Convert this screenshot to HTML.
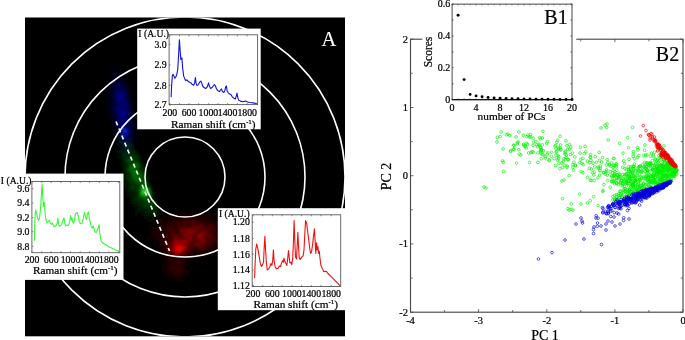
<!DOCTYPE html>
<html><head><meta charset="utf-8"><title>Figure</title>
<style>html,body{margin:0;padding:0;background:#fff;}body{width:685px;height:340px;overflow:hidden;}svg{display:block;font-family:"Liberation Serif","Times New Roman",serif;}text{stroke:#000;stroke-width:0.22px;}text.w{stroke:#fff;stroke-width:0.1px;}</style>
</head><body>
<svg width="685" height="340" viewBox="0 0 685 340">
<defs>
<filter id="b4" x="-50%" y="-50%" width="200%" height="200%"><feGaussianBlur stdDeviation="4"/></filter>
<filter id="b3" x="-50%" y="-50%" width="200%" height="200%"><feGaussianBlur stdDeviation="2.5"/></filter>
<filter id="b1" x="-10%" y="-10%" width="120%" height="120%"><feGaussianBlur stdDeviation="1.5"/></filter>
<filter id="b6" x="-50%" y="-50%" width="200%" height="200%"><feGaussianBlur stdDeviation="6"/></filter>
<clipPath id="cA"><rect x="25" y="17.5" width="320" height="318.8"/></clipPath>
</defs>
<rect x="0" y="0" width="685" height="340" fill="#fff"/>
<rect x="25" y="17.5" width="320" height="318.8" fill="#000"/>
<g clip-path="url(#cA)">
<g filter="url(#b1)">
<rect x="111" y="63" width="3" height="3" fill="rgb(0,0,12)"/>
<rect x="114" y="63" width="3" height="3" fill="rgb(0,0,12)"/>
<rect x="111" y="66" width="3" height="3" fill="rgb(0,0,12)"/>
<rect x="120" y="66" width="3" height="3" fill="rgb(0,0,13)"/>
<rect x="108" y="69" width="3" height="3" fill="rgb(0,0,13)"/>
<rect x="114" y="69" width="3" height="3" fill="rgb(0,0,13)"/>
<rect x="117" y="69" width="3" height="3" fill="rgb(0,0,17)"/>
<rect x="120" y="69" width="3" height="3" fill="rgb(0,0,17)"/>
<rect x="108" y="72" width="3" height="3" fill="rgb(0,0,16)"/>
<rect x="111" y="72" width="3" height="3" fill="rgb(0,0,22)"/>
<rect x="114" y="72" width="3" height="3" fill="rgb(0,0,28)"/>
<rect x="117" y="72" width="3" height="3" fill="rgb(0,0,22)"/>
<rect x="123" y="72" width="3" height="3" fill="rgb(0,0,14)"/>
<rect x="108" y="75" width="3" height="3" fill="rgb(0,0,14)"/>
<rect x="111" y="75" width="3" height="3" fill="rgb(0,0,17)"/>
<rect x="114" y="75" width="3" height="3" fill="rgb(0,0,18)"/>
<rect x="117" y="75" width="3" height="3" fill="rgb(0,0,24)"/>
<rect x="120" y="75" width="3" height="3" fill="rgb(0,0,15)"/>
<rect x="123" y="75" width="3" height="3" fill="rgb(0,0,16)"/>
<rect x="126" y="75" width="3" height="3" fill="rgb(0,0,11)"/>
<rect x="111" y="78" width="3" height="3" fill="rgb(0,0,14)"/>
<rect x="114" y="78" width="3" height="3" fill="rgb(0,0,46)"/>
<rect x="117" y="78" width="3" height="3" fill="rgb(0,0,27)"/>
<rect x="120" y="78" width="3" height="3" fill="rgb(0,0,18)"/>
<rect x="123" y="78" width="3" height="3" fill="rgb(0,0,28)"/>
<rect x="105" y="81" width="3" height="3" fill="rgb(0,0,12)"/>
<rect x="108" y="81" width="3" height="3" fill="rgb(0,0,23)"/>
<rect x="111" y="81" width="3" height="3" fill="rgb(0,0,28)"/>
<rect x="114" y="81" width="3" height="3" fill="rgb(0,0,40)"/>
<rect x="117" y="81" width="3" height="3" fill="rgb(0,0,62)"/>
<rect x="120" y="81" width="3" height="3" fill="rgb(0,0,31)"/>
<rect x="123" y="81" width="3" height="3" fill="rgb(0,0,22)"/>
<rect x="126" y="81" width="3" height="3" fill="rgb(0,0,11)"/>
<rect x="108" y="84" width="3" height="3" fill="rgb(0,0,13)"/>
<rect x="111" y="84" width="3" height="3" fill="rgb(0,0,38)"/>
<rect x="114" y="84" width="3" height="3" fill="rgb(0,0,69)"/>
<rect x="117" y="84" width="3" height="3" fill="rgb(0,0,92)"/>
<rect x="120" y="84" width="3" height="3" fill="rgb(0,0,46)"/>
<rect x="123" y="84" width="3" height="3" fill="rgb(0,0,52)"/>
<rect x="126" y="84" width="3" height="3" fill="rgb(0,0,16)"/>
<rect x="105" y="87" width="3" height="3" fill="rgb(0,0,13)"/>
<rect x="108" y="87" width="3" height="3" fill="rgb(0,0,21)"/>
<rect x="111" y="87" width="3" height="3" fill="rgb(0,0,24)"/>
<rect x="114" y="87" width="3" height="3" fill="rgb(0,0,69)"/>
<rect x="117" y="87" width="3" height="3" fill="rgb(0,0,92)"/>
<rect x="120" y="87" width="3" height="3" fill="rgb(0,0,54)"/>
<rect x="123" y="87" width="3" height="3" fill="rgb(0,0,70)"/>
<rect x="126" y="87" width="3" height="3" fill="rgb(0,0,30)"/>
<rect x="105" y="90" width="3" height="3" fill="rgb(0,0,14)"/>
<rect x="108" y="90" width="3" height="3" fill="rgb(0,0,22)"/>
<rect x="111" y="90" width="3" height="3" fill="rgb(0,0,25)"/>
<rect x="114" y="90" width="3" height="3" fill="rgb(0,0,61)"/>
<rect x="117" y="90" width="3" height="3" fill="rgb(0,0,69)"/>
<rect x="120" y="90" width="3" height="3" fill="rgb(0,0,99)"/>
<rect x="123" y="90" width="3" height="3" fill="rgb(0,0,70)"/>
<rect x="126" y="90" width="3" height="3" fill="rgb(0,0,24)"/>
<rect x="129" y="90" width="3" height="3" fill="rgb(0,0,12)"/>
<rect x="105" y="93" width="3" height="3" fill="rgb(0,0,15)"/>
<rect x="108" y="93" width="3" height="3" fill="rgb(0,0,24)"/>
<rect x="111" y="93" width="3" height="3" fill="rgb(0,0,25)"/>
<rect x="114" y="93" width="3" height="3" fill="rgb(0,0,95)"/>
<rect x="117" y="93" width="3" height="3" fill="rgb(0,0,118)"/>
<rect x="120" y="93" width="3" height="3" fill="rgb(0,0,160)"/>
<rect x="123" y="93" width="3" height="3" fill="rgb(0,0,97)"/>
<rect x="126" y="93" width="3" height="3" fill="rgb(0,0,51)"/>
<rect x="129" y="93" width="3" height="3" fill="rgb(0,0,16)"/>
<rect x="132" y="93" width="3" height="3" fill="rgb(0,0,11)"/>
<rect x="105" y="96" width="3" height="3" fill="rgb(0,0,11)"/>
<rect x="108" y="96" width="3" height="3" fill="rgb(0,0,12)"/>
<rect x="111" y="96" width="3" height="3" fill="rgb(0,0,21)"/>
<rect x="114" y="96" width="3" height="3" fill="rgb(0,0,68)"/>
<rect x="117" y="96" width="3" height="3" fill="rgb(0,0,103)"/>
<rect x="120" y="96" width="3" height="3" fill="rgb(0,0,151)"/>
<rect x="123" y="96" width="3" height="3" fill="rgb(0,0,54)"/>
<rect x="126" y="96" width="3" height="3" fill="rgb(0,0,45)"/>
<rect x="129" y="96" width="3" height="3" fill="rgb(0,0,20)"/>
<rect x="105" y="99" width="3" height="3" fill="rgb(0,0,12)"/>
<rect x="108" y="99" width="3" height="3" fill="rgb(0,0,28)"/>
<rect x="111" y="99" width="3" height="3" fill="rgb(0,0,22)"/>
<rect x="114" y="99" width="3" height="3" fill="rgb(0,0,56)"/>
<rect x="117" y="99" width="3" height="3" fill="rgb(0,0,151)"/>
<rect x="120" y="99" width="3" height="3" fill="rgb(0,0,85)"/>
<rect x="123" y="99" width="3" height="3" fill="rgb(0,0,95)"/>
<rect x="126" y="99" width="3" height="3" fill="rgb(0,0,49)"/>
<rect x="129" y="99" width="3" height="3" fill="rgb(0,0,31)"/>
<rect x="132" y="99" width="3" height="3" fill="rgb(0,0,17)"/>
<rect x="108" y="102" width="3" height="3" fill="rgb(0,0,11)"/>
<rect x="111" y="102" width="3" height="3" fill="rgb(0,0,39)"/>
<rect x="114" y="102" width="3" height="3" fill="rgb(0,0,49)"/>
<rect x="117" y="102" width="3" height="3" fill="rgb(0,0,62)"/>
<rect x="120" y="102" width="3" height="3" fill="rgb(0,0,91)"/>
<rect x="123" y="102" width="3" height="3" fill="rgb(0,0,129)"/>
<rect x="126" y="102" width="3" height="3" fill="rgb(0,0,71)"/>
<rect x="129" y="102" width="3" height="3" fill="rgb(0,0,16)"/>
<rect x="132" y="102" width="3" height="3" fill="rgb(0,0,10)"/>
<rect x="105" y="105" width="3" height="3" fill="rgb(0,0,10)"/>
<rect x="108" y="105" width="3" height="3" fill="rgb(0,0,22)"/>
<rect x="111" y="105" width="3" height="3" fill="rgb(0,0,29)"/>
<rect x="114" y="105" width="3" height="3" fill="rgb(0,0,67)"/>
<rect x="117" y="105" width="3" height="3" fill="rgb(0,0,111)"/>
<rect x="120" y="105" width="3" height="3" fill="rgb(0,0,97)"/>
<rect x="123" y="105" width="3" height="3" fill="rgb(0,0,102)"/>
<rect x="126" y="105" width="3" height="3" fill="rgb(0,0,107)"/>
<rect x="129" y="105" width="3" height="3" fill="rgb(0,0,29)"/>
<rect x="132" y="105" width="3" height="3" fill="rgb(0,0,14)"/>
<rect x="105" y="108" width="3" height="3" fill="rgb(0,0,11)"/>
<rect x="108" y="108" width="3" height="3" fill="rgb(0,0,19)"/>
<rect x="111" y="108" width="3" height="3" fill="rgb(0,0,42)"/>
<rect x="114" y="108" width="3" height="3" fill="rgb(0,0,77)"/>
<rect x="117" y="108" width="3" height="3" fill="rgb(0,0,125)"/>
<rect x="120" y="108" width="3" height="3" fill="rgb(0,0,112)"/>
<rect x="123" y="108" width="3" height="3" fill="rgb(0,0,82)"/>
<rect x="126" y="108" width="3" height="3" fill="rgb(0,0,65)"/>
<rect x="129" y="108" width="3" height="3" fill="rgb(0,0,37)"/>
<rect x="132" y="108" width="3" height="3" fill="rgb(0,0,17)"/>
<rect x="105" y="111" width="3" height="3" fill="rgb(0,0,10)"/>
<rect x="108" y="111" width="3" height="3" fill="rgb(0,0,11)"/>
<rect x="111" y="111" width="3" height="3" fill="rgb(0,0,17)"/>
<rect x="114" y="111" width="3" height="3" fill="rgb(0,0,59)"/>
<rect x="117" y="111" width="3" height="3" fill="rgb(0,0,106)"/>
<rect x="120" y="111" width="3" height="3" fill="rgb(0,0,122)"/>
<rect x="123" y="111" width="3" height="3" fill="rgb(0,0,161)"/>
<rect x="126" y="111" width="3" height="3" fill="rgb(0,0,88)"/>
<rect x="129" y="111" width="3" height="3" fill="rgb(0,0,33)"/>
<rect x="132" y="111" width="3" height="3" fill="rgb(0,0,13)"/>
<rect x="108" y="114" width="3" height="3" fill="rgb(0,0,18)"/>
<rect x="111" y="114" width="3" height="3" fill="rgb(0,0,34)"/>
<rect x="114" y="114" width="3" height="3" fill="rgb(0,0,48)"/>
<rect x="117" y="114" width="3" height="3" fill="rgb(0,0,54)"/>
<rect x="120" y="114" width="3" height="3" fill="rgb(0,0,160)"/>
<rect x="123" y="114" width="3" height="3" fill="rgb(0,0,86)"/>
<rect x="126" y="114" width="3" height="3" fill="rgb(0,0,80)"/>
<rect x="129" y="114" width="3" height="3" fill="rgb(0,0,61)"/>
<rect x="132" y="114" width="3" height="3" fill="rgb(0,0,17)"/>
<rect x="108" y="117" width="3" height="3" fill="rgb(0,0,16)"/>
<rect x="111" y="117" width="3" height="3" fill="rgb(0,0,12)"/>
<rect x="114" y="117" width="3" height="3" fill="rgb(0,1,54)"/>
<rect x="117" y="117" width="3" height="3" fill="rgb(0,1,71)"/>
<rect x="120" y="117" width="3" height="3" fill="rgb(0,0,97)"/>
<rect x="123" y="117" width="3" height="3" fill="rgb(0,0,78)"/>
<rect x="126" y="117" width="3" height="3" fill="rgb(0,0,85)"/>
<rect x="129" y="117" width="3" height="3" fill="rgb(0,0,73)"/>
<rect x="132" y="117" width="3" height="3" fill="rgb(0,0,17)"/>
<rect x="111" y="120" width="3" height="3" fill="rgb(0,1,25)"/>
<rect x="114" y="120" width="3" height="3" fill="rgb(0,2,42)"/>
<rect x="117" y="120" width="3" height="3" fill="rgb(0,2,91)"/>
<rect x="120" y="120" width="3" height="3" fill="rgb(0,1,121)"/>
<rect x="123" y="120" width="3" height="3" fill="rgb(0,0,127)"/>
<rect x="126" y="120" width="3" height="3" fill="rgb(0,0,123)"/>
<rect x="129" y="120" width="3" height="3" fill="rgb(0,0,32)"/>
<rect x="132" y="120" width="3" height="3" fill="rgb(0,0,24)"/>
<rect x="111" y="123" width="3" height="3" fill="rgb(0,1,22)"/>
<rect x="114" y="123" width="3" height="3" fill="rgb(0,2,27)"/>
<rect x="117" y="123" width="3" height="3" fill="rgb(0,4,75)"/>
<rect x="120" y="123" width="3" height="3" fill="rgb(0,3,116)"/>
<rect x="123" y="123" width="3" height="3" fill="rgb(0,1,106)"/>
<rect x="126" y="123" width="3" height="3" fill="rgb(0,0,81)"/>
<rect x="129" y="123" width="3" height="3" fill="rgb(0,0,55)"/>
<rect x="132" y="123" width="3" height="3" fill="rgb(0,0,21)"/>
<rect x="111" y="126" width="3" height="3" fill="rgb(0,1,16)"/>
<rect x="114" y="126" width="3" height="3" fill="rgb(0,2,23)"/>
<rect x="117" y="126" width="3" height="3" fill="rgb(0,2,30)"/>
<rect x="120" y="126" width="3" height="3" fill="rgb(0,6,133)"/>
<rect x="123" y="126" width="3" height="3" fill="rgb(0,3,150)"/>
<rect x="126" y="126" width="3" height="3" fill="rgb(0,1,62)"/>
<rect x="129" y="126" width="3" height="3" fill="rgb(0,0,53)"/>
<rect x="132" y="126" width="3" height="3" fill="rgb(0,0,30)"/>
<rect x="135" y="126" width="3" height="3" fill="rgb(0,0,15)"/>
<rect x="114" y="129" width="3" height="3" fill="rgb(0,2,15)"/>
<rect x="117" y="129" width="3" height="3" fill="rgb(0,7,57)"/>
<rect x="120" y="129" width="3" height="3" fill="rgb(0,4,72)"/>
<rect x="123" y="129" width="3" height="3" fill="rgb(30,51,221)"/>
<rect x="126" y="129" width="3" height="3" fill="rgb(0,4,162)"/>
<rect x="129" y="129" width="3" height="3" fill="rgb(0,1,35)"/>
<rect x="132" y="129" width="3" height="3" fill="rgb(0,0,33)"/>
<rect x="111" y="132" width="3" height="3" fill="rgb(0,2,13)"/>
<rect x="114" y="132" width="3" height="3" fill="rgb(0,3,15)"/>
<rect x="117" y="132" width="3" height="3" fill="rgb(0,10,53)"/>
<rect x="120" y="132" width="3" height="3" fill="rgb(0,9,104)"/>
<rect x="123" y="132" width="3" height="3" fill="rgb(0,6,152)"/>
<rect x="126" y="132" width="3" height="3" fill="rgb(0,7,152)"/>
<rect x="129" y="132" width="3" height="3" fill="rgb(0,2,45)"/>
<rect x="132" y="132" width="3" height="3" fill="rgb(0,1,28)"/>
<rect x="135" y="132" width="3" height="3" fill="rgb(0,0,10)"/>
<rect x="117" y="135" width="3" height="3" fill="rgb(0,8,28)"/>
<rect x="120" y="135" width="3" height="3" fill="rgb(0,8,59)"/>
<rect x="123" y="135" width="3" height="3" fill="rgb(0,12,168)"/>
<rect x="126" y="135" width="3" height="3" fill="rgb(0,6,71)"/>
<rect x="129" y="135" width="3" height="3" fill="rgb(0,3,29)"/>
<rect x="132" y="135" width="3" height="3" fill="rgb(0,2,22)"/>
<rect x="135" y="135" width="3" height="3" fill="rgb(0,1,13)"/>
<rect x="114" y="138" width="3" height="3" fill="rgb(0,4,11)"/>
<rect x="117" y="138" width="3" height="3" fill="rgb(0,9,24)"/>
<rect x="120" y="138" width="3" height="3" fill="rgb(0,13,44)"/>
<rect x="123" y="138" width="3" height="3" fill="rgb(0,10,49)"/>
<rect x="126" y="138" width="3" height="3" fill="rgb(0,10,48)"/>
<rect x="129" y="138" width="3" height="3" fill="rgb(0,10,46)"/>
<rect x="132" y="138" width="3" height="3" fill="rgb(0,3,14)"/>
<rect x="135" y="138" width="3" height="3" fill="rgb(0,2,10)"/>
<rect x="114" y="141" width="3" height="3" fill="rgb(0,5,11)"/>
<rect x="117" y="141" width="3" height="3" fill="rgb(0,8,15)"/>
<rect x="120" y="141" width="3" height="3" fill="rgb(0,22,42)"/>
<rect x="123" y="141" width="3" height="3" fill="rgb(0,21,48)"/>
<rect x="126" y="141" width="3" height="3" fill="rgb(0,25,58)"/>
<rect x="129" y="141" width="3" height="3" fill="rgb(0,12,28)"/>
<rect x="132" y="141" width="3" height="3" fill="rgb(0,5,12)"/>
<rect x="117" y="144" width="3" height="3" fill="rgb(0,9,12)"/>
<rect x="120" y="144" width="3" height="3" fill="rgb(0,9,12)"/>
<rect x="123" y="144" width="3" height="3" fill="rgb(0,32,43)"/>
<rect x="126" y="144" width="3" height="3" fill="rgb(0,39,51)"/>
<rect x="129" y="144" width="3" height="3" fill="rgb(0,32,37)"/>
<rect x="120" y="147" width="3" height="3" fill="rgb(0,11,9)"/>
<rect x="123" y="147" width="3" height="3" fill="rgb(0,23,19)"/>
<rect x="126" y="147" width="3" height="3" fill="rgb(0,40,30)"/>
<rect x="129" y="147" width="3" height="3" fill="rgb(0,36,23)"/>
<rect x="132" y="147" width="3" height="3" fill="rgb(0,15,8)"/>
<rect x="117" y="150" width="3" height="3" fill="rgb(0,12,8)"/>
<rect x="120" y="150" width="3" height="3" fill="rgb(0,26,16)"/>
<rect x="123" y="150" width="3" height="3" fill="rgb(0,30,16)"/>
<rect x="126" y="150" width="3" height="3" fill="rgb(0,29,13)"/>
<rect x="129" y="150" width="3" height="3" fill="rgb(0,32,11)"/>
<rect x="132" y="150" width="3" height="3" fill="rgb(0,41,11)"/>
<rect x="135" y="150" width="3" height="3" fill="rgb(0,15,4)"/>
<rect x="117" y="153" width="3" height="3" fill="rgb(0,12,6)"/>
<rect x="120" y="153" width="3" height="3" fill="rgb(0,13,5)"/>
<rect x="123" y="153" width="3" height="3" fill="rgb(0,46,17)"/>
<rect x="126" y="153" width="3" height="3" fill="rgb(0,40,11)"/>
<rect x="129" y="153" width="3" height="3" fill="rgb(0,62,13)"/>
<rect x="132" y="153" width="3" height="3" fill="rgb(0,27,4)"/>
<rect x="135" y="153" width="3" height="3" fill="rgb(0,35,5)"/>
<rect x="138" y="153" width="3" height="3" fill="rgb(0,10,1)"/>
<rect x="117" y="156" width="3" height="3" fill="rgb(0,11,4)"/>
<rect x="120" y="156" width="3" height="3" fill="rgb(0,12,3)"/>
<rect x="123" y="156" width="3" height="3" fill="rgb(0,41,10)"/>
<rect x="126" y="156" width="3" height="3" fill="rgb(0,39,7)"/>
<rect x="129" y="156" width="3" height="3" fill="rgb(0,37,4)"/>
<rect x="132" y="156" width="3" height="3" fill="rgb(0,59,5)"/>
<rect x="135" y="156" width="3" height="3" fill="rgb(0,49,4)"/>
<rect x="138" y="156" width="3" height="3" fill="rgb(0,23,2)"/>
<rect x="120" y="159" width="3" height="3" fill="rgb(0,10,2)"/>
<rect x="123" y="159" width="3" height="3" fill="rgb(0,37,6)"/>
<rect x="126" y="159" width="3" height="3" fill="rgb(0,65,8)"/>
<rect x="129" y="159" width="3" height="3" fill="rgb(0,91,7)"/>
<rect x="132" y="159" width="3" height="3" fill="rgb(0,55,3)"/>
<rect x="135" y="159" width="3" height="3" fill="rgb(0,38,1)"/>
<rect x="138" y="159" width="3" height="3" fill="rgb(0,18,0)"/>
<rect x="141" y="159" width="3" height="3" fill="rgb(0,15,1)"/>
<rect x="120" y="162" width="3" height="3" fill="rgb(0,16,2)"/>
<rect x="123" y="162" width="3" height="3" fill="rgb(0,30,3)"/>
<rect x="126" y="162" width="3" height="3" fill="rgb(0,26,2)"/>
<rect x="129" y="162" width="3" height="3" fill="rgb(0,49,2)"/>
<rect x="132" y="162" width="3" height="3" fill="rgb(0,56,2)"/>
<rect x="135" y="162" width="3" height="3" fill="rgb(0,93,2)"/>
<rect x="138" y="162" width="3" height="3" fill="rgb(0,37,1)"/>
<rect x="141" y="162" width="3" height="3" fill="rgb(0,18,0)"/>
<rect x="120" y="165" width="3" height="3" fill="rgb(0,13,1)"/>
<rect x="123" y="165" width="3" height="3" fill="rgb(0,31,2)"/>
<rect x="126" y="165" width="3" height="3" fill="rgb(0,26,1)"/>
<rect x="129" y="165" width="3" height="3" fill="rgb(0,96,3)"/>
<rect x="132" y="165" width="3" height="3" fill="rgb(0,111,2)"/>
<rect x="135" y="165" width="3" height="3" fill="rgb(0,109,2)"/>
<rect x="138" y="165" width="3" height="3" fill="rgb(0,62,1)"/>
<rect x="141" y="165" width="3" height="3" fill="rgb(0,28,0)"/>
<rect x="144" y="165" width="3" height="3" fill="rgb(0,13,0)"/>
<rect x="123" y="168" width="3" height="3" fill="rgb(0,31,2)"/>
<rect x="126" y="168" width="3" height="3" fill="rgb(0,54,2)"/>
<rect x="129" y="168" width="3" height="3" fill="rgb(0,95,2)"/>
<rect x="132" y="168" width="3" height="3" fill="rgb(0,106,1)"/>
<rect x="135" y="168" width="3" height="3" fill="rgb(0,78,0)"/>
<rect x="138" y="168" width="3" height="3" fill="rgb(0,47,0)"/>
<rect x="141" y="168" width="3" height="3" fill="rgb(0,41,0)"/>
<rect x="144" y="168" width="3" height="3" fill="rgb(0,10,0)"/>
<rect x="120" y="171" width="3" height="3" fill="rgb(0,13,0)"/>
<rect x="123" y="171" width="3" height="3" fill="rgb(0,14,0)"/>
<rect x="126" y="171" width="3" height="3" fill="rgb(0,38,1)"/>
<rect x="129" y="171" width="3" height="3" fill="rgb(0,45,0)"/>
<rect x="132" y="171" width="3" height="3" fill="rgb(0,115,1)"/>
<rect x="135" y="171" width="3" height="3" fill="rgb(0,118,1)"/>
<rect x="138" y="171" width="3" height="3" fill="rgb(0,75,0)"/>
<rect x="141" y="171" width="3" height="3" fill="rgb(0,58,0)"/>
<rect x="144" y="171" width="3" height="3" fill="rgb(0,19,0)"/>
<rect x="123" y="174" width="3" height="3" fill="rgb(0,13,0)"/>
<rect x="126" y="174" width="3" height="3" fill="rgb(0,42,1)"/>
<rect x="129" y="174" width="3" height="3" fill="rgb(0,36,0)"/>
<rect x="132" y="174" width="3" height="3" fill="rgb(0,109,1)"/>
<rect x="135" y="174" width="3" height="3" fill="rgb(0,87,0)"/>
<rect x="138" y="174" width="3" height="3" fill="rgb(0,116,0)"/>
<rect x="141" y="174" width="3" height="3" fill="rgb(0,76,0)"/>
<rect x="144" y="174" width="3" height="3" fill="rgb(0,21,0)"/>
<rect x="147" y="174" width="3" height="3" fill="rgb(0,13,0)"/>
<rect x="123" y="177" width="3" height="3" fill="rgb(0,11,0)"/>
<rect x="126" y="177" width="3" height="3" fill="rgb(0,43,0)"/>
<rect x="129" y="177" width="3" height="3" fill="rgb(0,50,0)"/>
<rect x="132" y="177" width="3" height="3" fill="rgb(0,83,0)"/>
<rect x="135" y="177" width="3" height="3" fill="rgb(0,117,0)"/>
<rect x="138" y="177" width="3" height="3" fill="rgb(0,65,0)"/>
<rect x="141" y="177" width="3" height="3" fill="rgb(0,92,0)"/>
<rect x="144" y="177" width="3" height="3" fill="rgb(0,54,0)"/>
<rect x="147" y="177" width="3" height="3" fill="rgb(0,12,0)"/>
<rect x="123" y="180" width="3" height="3" fill="rgb(0,16,0)"/>
<rect x="126" y="180" width="3" height="3" fill="rgb(0,19,0)"/>
<rect x="129" y="180" width="3" height="3" fill="rgb(0,50,0)"/>
<rect x="132" y="180" width="3" height="3" fill="rgb(0,49,0)"/>
<rect x="135" y="180" width="3" height="3" fill="rgb(0,83,0)"/>
<rect x="138" y="180" width="3" height="3" fill="rgb(0,90,0)"/>
<rect x="141" y="180" width="3" height="3" fill="rgb(0,83,0)"/>
<rect x="144" y="180" width="3" height="3" fill="rgb(0,32,0)"/>
<rect x="147" y="180" width="3" height="3" fill="rgb(0,16,0)"/>
<rect x="123" y="183" width="3" height="3" fill="rgb(0,18,0)"/>
<rect x="126" y="183" width="3" height="3" fill="rgb(0,25,0)"/>
<rect x="129" y="183" width="3" height="3" fill="rgb(0,27,0)"/>
<rect x="132" y="183" width="3" height="3" fill="rgb(0,49,0)"/>
<rect x="135" y="183" width="3" height="3" fill="rgb(0,42,0)"/>
<rect x="138" y="183" width="3" height="3" fill="rgb(0,60,0)"/>
<rect x="141" y="183" width="3" height="3" fill="rgb(0,106,0)"/>
<rect x="144" y="183" width="3" height="3" fill="rgb(0,75,0)"/>
<rect x="147" y="183" width="3" height="3" fill="rgb(0,43,0)"/>
<rect x="123" y="186" width="3" height="3" fill="rgb(0,13,0)"/>
<rect x="126" y="186" width="3" height="3" fill="rgb(0,14,0)"/>
<rect x="129" y="186" width="3" height="3" fill="rgb(0,37,0)"/>
<rect x="132" y="186" width="3" height="3" fill="rgb(0,64,0)"/>
<rect x="135" y="186" width="3" height="3" fill="rgb(0,33,0)"/>
<rect x="138" y="186" width="3" height="3" fill="rgb(0,58,0)"/>
<rect x="141" y="186" width="3" height="3" fill="rgb(0,146,0)"/>
<rect x="144" y="186" width="3" height="3" fill="rgb(0,67,0)"/>
<rect x="147" y="186" width="3" height="3" fill="rgb(0,78,0)"/>
<rect x="150" y="186" width="3" height="3" fill="rgb(0,18,0)"/>
<rect x="126" y="189" width="3" height="3" fill="rgb(0,18,0)"/>
<rect x="129" y="189" width="3" height="3" fill="rgb(0,26,0)"/>
<rect x="132" y="189" width="3" height="3" fill="rgb(0,37,0)"/>
<rect x="135" y="189" width="3" height="3" fill="rgb(0,45,0)"/>
<rect x="138" y="189" width="3" height="3" fill="rgb(0,50,0)"/>
<rect x="141" y="189" width="3" height="3" fill="rgb(8,181,8)"/>
<rect x="144" y="189" width="3" height="3" fill="rgb(68,255,68)"/>
<rect x="147" y="189" width="3" height="3" fill="rgb(0,116,0)"/>
<rect x="150" y="189" width="3" height="3" fill="rgb(0,21,0)"/>
<rect x="126" y="192" width="3" height="3" fill="rgb(0,13,0)"/>
<rect x="129" y="192" width="3" height="3" fill="rgb(0,25,0)"/>
<rect x="132" y="192" width="3" height="3" fill="rgb(0,27,0)"/>
<rect x="135" y="192" width="3" height="3" fill="rgb(0,28,0)"/>
<rect x="138" y="192" width="3" height="3" fill="rgb(0,54,0)"/>
<rect x="141" y="192" width="3" height="3" fill="rgb(24,200,24)"/>
<rect x="144" y="192" width="3" height="3" fill="rgb(17,192,17)"/>
<rect x="147" y="192" width="3" height="3" fill="rgb(16,190,16)"/>
<rect x="150" y="192" width="3" height="3" fill="rgb(0,30,0)"/>
<rect x="153" y="192" width="3" height="3" fill="rgb(0,14,0)"/>
<rect x="126" y="195" width="3" height="3" fill="rgb(0,10,0)"/>
<rect x="129" y="195" width="3" height="3" fill="rgb(0,13,0)"/>
<rect x="132" y="195" width="3" height="3" fill="rgb(0,30,0)"/>
<rect x="135" y="195" width="3" height="3" fill="rgb(0,27,0)"/>
<rect x="138" y="195" width="3" height="3" fill="rgb(0,72,0)"/>
<rect x="141" y="195" width="3" height="3" fill="rgb(0,97,0)"/>
<rect x="144" y="195" width="3" height="3" fill="rgb(0,130,0)"/>
<rect x="147" y="195" width="3" height="3" fill="rgb(0,68,0)"/>
<rect x="150" y="195" width="3" height="3" fill="rgb(0,27,0)"/>
<rect x="153" y="195" width="3" height="3" fill="rgb(0,11,0)"/>
<rect x="129" y="198" width="3" height="3" fill="rgb(0,12,0)"/>
<rect x="132" y="198" width="3" height="3" fill="rgb(0,29,0)"/>
<rect x="135" y="198" width="3" height="3" fill="rgb(0,41,0)"/>
<rect x="138" y="198" width="3" height="3" fill="rgb(0,46,0)"/>
<rect x="141" y="198" width="3" height="3" fill="rgb(0,45,0)"/>
<rect x="144" y="198" width="3" height="3" fill="rgb(0,74,0)"/>
<rect x="147" y="198" width="3" height="3" fill="rgb(0,59,0)"/>
<rect x="150" y="198" width="3" height="3" fill="rgb(0,43,0)"/>
<rect x="153" y="198" width="3" height="3" fill="rgb(0,24,0)"/>
<rect x="129" y="201" width="3" height="3" fill="rgb(0,12,0)"/>
<rect x="132" y="201" width="3" height="3" fill="rgb(0,19,0)"/>
<rect x="135" y="201" width="3" height="3" fill="rgb(0,31,0)"/>
<rect x="138" y="201" width="3" height="3" fill="rgb(0,41,0)"/>
<rect x="141" y="201" width="3" height="3" fill="rgb(0,36,0)"/>
<rect x="144" y="201" width="3" height="3" fill="rgb(0,46,0)"/>
<rect x="147" y="201" width="3" height="3" fill="rgb(0,74,0)"/>
<rect x="150" y="201" width="3" height="3" fill="rgb(0,60,0)"/>
<rect x="153" y="201" width="3" height="3" fill="rgb(0,25,0)"/>
<rect x="156" y="201" width="3" height="3" fill="rgb(0,13,0)"/>
<rect x="132" y="204" width="3" height="3" fill="rgb(0,11,0)"/>
<rect x="135" y="204" width="3" height="3" fill="rgb(0,20,0)"/>
<rect x="138" y="204" width="3" height="3" fill="rgb(0,20,0)"/>
<rect x="141" y="204" width="3" height="3" fill="rgb(0,44,0)"/>
<rect x="144" y="204" width="3" height="3" fill="rgb(0,62,0)"/>
<rect x="147" y="204" width="3" height="3" fill="rgb(0,45,0)"/>
<rect x="150" y="204" width="3" height="3" fill="rgb(0,73,0)"/>
<rect x="153" y="204" width="3" height="3" fill="rgb(0,51,0)"/>
<rect x="156" y="204" width="3" height="3" fill="rgb(0,10,0)"/>
<rect x="135" y="207" width="3" height="3" fill="rgb(0,14,0)"/>
<rect x="138" y="207" width="3" height="3" fill="rgb(0,20,0)"/>
<rect x="141" y="207" width="3" height="3" fill="rgb(0,35,0)"/>
<rect x="144" y="207" width="3" height="3" fill="rgb(0,21,0)"/>
<rect x="147" y="207" width="3" height="3" fill="rgb(0,39,0)"/>
<rect x="150" y="207" width="3" height="3" fill="rgb(0,32,0)"/>
<rect x="153" y="207" width="3" height="3" fill="rgb(1,54,0)"/>
<rect x="156" y="207" width="3" height="3" fill="rgb(1,19,0)"/>
<rect x="135" y="210" width="3" height="3" fill="rgb(0,14,0)"/>
<rect x="138" y="210" width="3" height="3" fill="rgb(0,19,0)"/>
<rect x="141" y="210" width="3" height="3" fill="rgb(0,16,0)"/>
<rect x="144" y="210" width="3" height="3" fill="rgb(0,31,0)"/>
<rect x="147" y="210" width="3" height="3" fill="rgb(1,48,0)"/>
<rect x="150" y="210" width="3" height="3" fill="rgb(1,39,0)"/>
<rect x="153" y="210" width="3" height="3" fill="rgb(2,44,0)"/>
<rect x="156" y="210" width="3" height="3" fill="rgb(2,16,0)"/>
<rect x="183" y="210" width="3" height="3" fill="rgb(13,0,0)"/>
<rect x="189" y="210" width="3" height="3" fill="rgb(12,0,0)"/>
<rect x="192" y="210" width="3" height="3" fill="rgb(12,0,0)"/>
<rect x="195" y="210" width="3" height="3" fill="rgb(10,0,0)"/>
<rect x="198" y="210" width="3" height="3" fill="rgb(15,0,0)"/>
<rect x="135" y="213" width="3" height="3" fill="rgb(0,10,0)"/>
<rect x="141" y="213" width="3" height="3" fill="rgb(1,17,0)"/>
<rect x="144" y="213" width="3" height="3" fill="rgb(1,24,0)"/>
<rect x="147" y="213" width="3" height="3" fill="rgb(2,26,0)"/>
<rect x="150" y="213" width="3" height="3" fill="rgb(1,17,0)"/>
<rect x="153" y="213" width="3" height="3" fill="rgb(2,20,0)"/>
<rect x="156" y="213" width="3" height="3" fill="rgb(5,20,0)"/>
<rect x="162" y="213" width="3" height="3" fill="rgb(10,2,0)"/>
<rect x="165" y="213" width="3" height="3" fill="rgb(10,0,0)"/>
<rect x="168" y="213" width="3" height="3" fill="rgb(12,0,0)"/>
<rect x="174" y="213" width="3" height="3" fill="rgb(14,0,0)"/>
<rect x="177" y="213" width="3" height="3" fill="rgb(19,0,0)"/>
<rect x="180" y="213" width="3" height="3" fill="rgb(24,0,0)"/>
<rect x="183" y="213" width="3" height="3" fill="rgb(26,0,0)"/>
<rect x="186" y="213" width="3" height="3" fill="rgb(15,0,0)"/>
<rect x="189" y="213" width="3" height="3" fill="rgb(20,0,0)"/>
<rect x="192" y="213" width="3" height="3" fill="rgb(29,0,0)"/>
<rect x="195" y="213" width="3" height="3" fill="rgb(12,0,0)"/>
<rect x="198" y="213" width="3" height="3" fill="rgb(11,0,0)"/>
<rect x="201" y="213" width="3" height="3" fill="rgb(12,0,0)"/>
<rect x="204" y="213" width="3" height="3" fill="rgb(19,0,0)"/>
<rect x="207" y="213" width="3" height="3" fill="rgb(12,0,0)"/>
<rect x="210" y="213" width="3" height="3" fill="rgb(15,0,0)"/>
<rect x="213" y="213" width="3" height="3" fill="rgb(14,0,0)"/>
<rect x="216" y="213" width="3" height="3" fill="rgb(11,0,0)"/>
<rect x="144" y="216" width="3" height="3" fill="rgb(2,13,0)"/>
<rect x="150" y="216" width="3" height="3" fill="rgb(3,17,0)"/>
<rect x="153" y="216" width="3" height="3" fill="rgb(3,11,0)"/>
<rect x="156" y="216" width="3" height="3" fill="rgb(6,13,0)"/>
<rect x="162" y="216" width="3" height="3" fill="rgb(16,2,0)"/>
<rect x="165" y="216" width="3" height="3" fill="rgb(12,0,0)"/>
<rect x="168" y="216" width="3" height="3" fill="rgb(22,0,0)"/>
<rect x="171" y="216" width="3" height="3" fill="rgb(18,0,0)"/>
<rect x="174" y="216" width="3" height="3" fill="rgb(18,0,0)"/>
<rect x="177" y="216" width="3" height="3" fill="rgb(33,0,0)"/>
<rect x="180" y="216" width="3" height="3" fill="rgb(21,0,0)"/>
<rect x="183" y="216" width="3" height="3" fill="rgb(30,0,0)"/>
<rect x="186" y="216" width="3" height="3" fill="rgb(35,0,0)"/>
<rect x="189" y="216" width="3" height="3" fill="rgb(46,0,0)"/>
<rect x="192" y="216" width="3" height="3" fill="rgb(37,0,0)"/>
<rect x="195" y="216" width="3" height="3" fill="rgb(17,0,0)"/>
<rect x="198" y="216" width="3" height="3" fill="rgb(28,0,0)"/>
<rect x="201" y="216" width="3" height="3" fill="rgb(39,0,0)"/>
<rect x="204" y="216" width="3" height="3" fill="rgb(33,0,0)"/>
<rect x="207" y="216" width="3" height="3" fill="rgb(19,0,0)"/>
<rect x="210" y="216" width="3" height="3" fill="rgb(12,0,0)"/>
<rect x="213" y="216" width="3" height="3" fill="rgb(13,0,0)"/>
<rect x="216" y="216" width="3" height="3" fill="rgb(17,0,0)"/>
<rect x="222" y="216" width="3" height="3" fill="rgb(12,0,0)"/>
<rect x="147" y="219" width="3" height="3" fill="rgb(6,13,0)"/>
<rect x="150" y="219" width="3" height="3" fill="rgb(8,17,0)"/>
<rect x="159" y="219" width="3" height="3" fill="rgb(18,7,0)"/>
<rect x="162" y="219" width="3" height="3" fill="rgb(10,1,0)"/>
<rect x="165" y="219" width="3" height="3" fill="rgb(12,0,0)"/>
<rect x="168" y="219" width="3" height="3" fill="rgb(14,0,0)"/>
<rect x="171" y="219" width="3" height="3" fill="rgb(41,0,0)"/>
<rect x="174" y="219" width="3" height="3" fill="rgb(32,0,0)"/>
<rect x="177" y="219" width="3" height="3" fill="rgb(34,0,0)"/>
<rect x="180" y="219" width="3" height="3" fill="rgb(24,0,0)"/>
<rect x="183" y="219" width="3" height="3" fill="rgb(58,0,0)"/>
<rect x="186" y="219" width="3" height="3" fill="rgb(65,0,0)"/>
<rect x="189" y="219" width="3" height="3" fill="rgb(54,0,0)"/>
<rect x="192" y="219" width="3" height="3" fill="rgb(63,0,0)"/>
<rect x="195" y="219" width="3" height="3" fill="rgb(47,0,0)"/>
<rect x="198" y="219" width="3" height="3" fill="rgb(35,0,0)"/>
<rect x="201" y="219" width="3" height="3" fill="rgb(28,0,0)"/>
<rect x="204" y="219" width="3" height="3" fill="rgb(30,0,0)"/>
<rect x="207" y="219" width="3" height="3" fill="rgb(22,0,0)"/>
<rect x="210" y="219" width="3" height="3" fill="rgb(25,0,0)"/>
<rect x="213" y="219" width="3" height="3" fill="rgb(14,0,0)"/>
<rect x="216" y="219" width="3" height="3" fill="rgb(11,0,0)"/>
<rect x="219" y="219" width="3" height="3" fill="rgb(22,0,0)"/>
<rect x="222" y="219" width="3" height="3" fill="rgb(17,0,0)"/>
<rect x="225" y="219" width="3" height="3" fill="rgb(13,0,0)"/>
<rect x="153" y="222" width="3" height="3" fill="rgb(13,9,0)"/>
<rect x="156" y="222" width="3" height="3" fill="rgb(15,6,0)"/>
<rect x="159" y="222" width="3" height="3" fill="rgb(19,4,0)"/>
<rect x="162" y="222" width="3" height="3" fill="rgb(23,1,0)"/>
<rect x="165" y="222" width="3" height="3" fill="rgb(33,0,0)"/>
<rect x="168" y="222" width="3" height="3" fill="rgb(38,0,0)"/>
<rect x="171" y="222" width="3" height="3" fill="rgb(30,0,0)"/>
<rect x="174" y="222" width="3" height="3" fill="rgb(50,0,0)"/>
<rect x="177" y="222" width="3" height="3" fill="rgb(59,0,0)"/>
<rect x="180" y="222" width="3" height="3" fill="rgb(52,0,0)"/>
<rect x="183" y="222" width="3" height="3" fill="rgb(79,0,0)"/>
<rect x="186" y="222" width="3" height="3" fill="rgb(50,0,0)"/>
<rect x="189" y="222" width="3" height="3" fill="rgb(65,0,0)"/>
<rect x="192" y="222" width="3" height="3" fill="rgb(66,0,0)"/>
<rect x="195" y="222" width="3" height="3" fill="rgb(67,0,0)"/>
<rect x="198" y="222" width="3" height="3" fill="rgb(41,0,0)"/>
<rect x="201" y="222" width="3" height="3" fill="rgb(63,0,0)"/>
<rect x="204" y="222" width="3" height="3" fill="rgb(32,0,0)"/>
<rect x="207" y="222" width="3" height="3" fill="rgb(46,0,0)"/>
<rect x="210" y="222" width="3" height="3" fill="rgb(37,0,0)"/>
<rect x="213" y="222" width="3" height="3" fill="rgb(39,0,0)"/>
<rect x="216" y="222" width="3" height="3" fill="rgb(36,0,0)"/>
<rect x="219" y="222" width="3" height="3" fill="rgb(32,0,0)"/>
<rect x="222" y="222" width="3" height="3" fill="rgb(13,0,0)"/>
<rect x="225" y="222" width="3" height="3" fill="rgb(19,0,0)"/>
<rect x="228" y="222" width="3" height="3" fill="rgb(10,0,0)"/>
<rect x="150" y="225" width="3" height="3" fill="rgb(11,4,0)"/>
<rect x="156" y="225" width="3" height="3" fill="rgb(22,4,0)"/>
<rect x="159" y="225" width="3" height="3" fill="rgb(30,3,0)"/>
<rect x="162" y="225" width="3" height="3" fill="rgb(40,1,0)"/>
<rect x="165" y="225" width="3" height="3" fill="rgb(21,0,0)"/>
<rect x="168" y="225" width="3" height="3" fill="rgb(48,0,0)"/>
<rect x="171" y="225" width="3" height="3" fill="rgb(60,0,0)"/>
<rect x="174" y="225" width="3" height="3" fill="rgb(36,0,0)"/>
<rect x="177" y="225" width="3" height="3" fill="rgb(68,0,0)"/>
<rect x="180" y="225" width="3" height="3" fill="rgb(47,0,0)"/>
<rect x="183" y="225" width="3" height="3" fill="rgb(53,0,0)"/>
<rect x="186" y="225" width="3" height="3" fill="rgb(42,0,0)"/>
<rect x="189" y="225" width="3" height="3" fill="rgb(62,0,0)"/>
<rect x="192" y="225" width="3" height="3" fill="rgb(105,0,0)"/>
<rect x="195" y="225" width="3" height="3" fill="rgb(85,0,0)"/>
<rect x="198" y="225" width="3" height="3" fill="rgb(96,0,0)"/>
<rect x="201" y="225" width="3" height="3" fill="rgb(102,0,0)"/>
<rect x="204" y="225" width="3" height="3" fill="rgb(43,0,0)"/>
<rect x="207" y="225" width="3" height="3" fill="rgb(75,0,0)"/>
<rect x="210" y="225" width="3" height="3" fill="rgb(67,0,0)"/>
<rect x="213" y="225" width="3" height="3" fill="rgb(47,0,0)"/>
<rect x="216" y="225" width="3" height="3" fill="rgb(29,0,0)"/>
<rect x="219" y="225" width="3" height="3" fill="rgb(19,0,0)"/>
<rect x="222" y="225" width="3" height="3" fill="rgb(21,0,0)"/>
<rect x="225" y="225" width="3" height="3" fill="rgb(15,0,0)"/>
<rect x="228" y="225" width="3" height="3" fill="rgb(10,0,0)"/>
<rect x="231" y="225" width="3" height="3" fill="rgb(11,0,0)"/>
<rect x="150" y="228" width="3" height="3" fill="rgb(14,3,0)"/>
<rect x="153" y="228" width="3" height="3" fill="rgb(20,3,0)"/>
<rect x="156" y="228" width="3" height="3" fill="rgb(11,1,0)"/>
<rect x="159" y="228" width="3" height="3" fill="rgb(37,2,0)"/>
<rect x="162" y="228" width="3" height="3" fill="rgb(22,0,0)"/>
<rect x="165" y="228" width="3" height="3" fill="rgb(57,0,0)"/>
<rect x="168" y="228" width="3" height="3" fill="rgb(69,0,0)"/>
<rect x="171" y="228" width="3" height="3" fill="rgb(41,0,0)"/>
<rect x="174" y="228" width="3" height="3" fill="rgb(51,0,0)"/>
<rect x="177" y="228" width="3" height="3" fill="rgb(47,0,0)"/>
<rect x="180" y="228" width="3" height="3" fill="rgb(109,0,0)"/>
<rect x="183" y="228" width="3" height="3" fill="rgb(105,0,0)"/>
<rect x="186" y="228" width="3" height="3" fill="rgb(130,0,0)"/>
<rect x="189" y="228" width="3" height="3" fill="rgb(121,0,0)"/>
<rect x="192" y="228" width="3" height="3" fill="rgb(83,0,0)"/>
<rect x="195" y="228" width="3" height="3" fill="rgb(120,0,0)"/>
<rect x="198" y="228" width="3" height="3" fill="rgb(80,0,0)"/>
<rect x="201" y="228" width="3" height="3" fill="rgb(73,0,0)"/>
<rect x="204" y="228" width="3" height="3" fill="rgb(73,0,0)"/>
<rect x="207" y="228" width="3" height="3" fill="rgb(82,0,0)"/>
<rect x="210" y="228" width="3" height="3" fill="rgb(48,0,0)"/>
<rect x="213" y="228" width="3" height="3" fill="rgb(52,0,0)"/>
<rect x="216" y="228" width="3" height="3" fill="rgb(43,0,0)"/>
<rect x="219" y="228" width="3" height="3" fill="rgb(42,0,0)"/>
<rect x="222" y="228" width="3" height="3" fill="rgb(25,0,0)"/>
<rect x="225" y="228" width="3" height="3" fill="rgb(18,0,0)"/>
<rect x="228" y="228" width="3" height="3" fill="rgb(16,0,0)"/>
<rect x="231" y="228" width="3" height="3" fill="rgb(11,0,0)"/>
<rect x="234" y="228" width="3" height="3" fill="rgb(10,0,0)"/>
<rect x="150" y="231" width="3" height="3" fill="rgb(17,2,0)"/>
<rect x="153" y="231" width="3" height="3" fill="rgb(18,1,0)"/>
<rect x="156" y="231" width="3" height="3" fill="rgb(29,1,0)"/>
<rect x="159" y="231" width="3" height="3" fill="rgb(28,0,0)"/>
<rect x="162" y="231" width="3" height="3" fill="rgb(34,0,0)"/>
<rect x="165" y="231" width="3" height="3" fill="rgb(33,0,0)"/>
<rect x="168" y="231" width="3" height="3" fill="rgb(30,0,0)"/>
<rect x="171" y="231" width="3" height="3" fill="rgb(86,0,0)"/>
<rect x="174" y="231" width="3" height="3" fill="rgb(51,0,0)"/>
<rect x="177" y="231" width="3" height="3" fill="rgb(47,0,0)"/>
<rect x="180" y="231" width="3" height="3" fill="rgb(121,0,0)"/>
<rect x="183" y="231" width="3" height="3" fill="rgb(96,0,0)"/>
<rect x="186" y="231" width="3" height="3" fill="rgb(107,0,0)"/>
<rect x="189" y="231" width="3" height="3" fill="rgb(148,0,0)"/>
<rect x="192" y="231" width="3" height="3" fill="rgb(134,0,0)"/>
<rect x="195" y="231" width="3" height="3" fill="rgb(86,0,0)"/>
<rect x="198" y="231" width="3" height="3" fill="rgb(87,0,0)"/>
<rect x="201" y="231" width="3" height="3" fill="rgb(118,0,0)"/>
<rect x="204" y="231" width="3" height="3" fill="rgb(108,0,0)"/>
<rect x="207" y="231" width="3" height="3" fill="rgb(59,0,0)"/>
<rect x="210" y="231" width="3" height="3" fill="rgb(51,0,0)"/>
<rect x="213" y="231" width="3" height="3" fill="rgb(55,0,0)"/>
<rect x="216" y="231" width="3" height="3" fill="rgb(26,0,0)"/>
<rect x="219" y="231" width="3" height="3" fill="rgb(46,0,0)"/>
<rect x="222" y="231" width="3" height="3" fill="rgb(32,0,0)"/>
<rect x="225" y="231" width="3" height="3" fill="rgb(14,0,0)"/>
<rect x="228" y="231" width="3" height="3" fill="rgb(17,0,0)"/>
<rect x="231" y="231" width="3" height="3" fill="rgb(13,0,0)"/>
<rect x="147" y="234" width="3" height="3" fill="rgb(12,1,0)"/>
<rect x="150" y="234" width="3" height="3" fill="rgb(15,1,0)"/>
<rect x="153" y="234" width="3" height="3" fill="rgb(23,1,0)"/>
<rect x="156" y="234" width="3" height="3" fill="rgb(13,0,0)"/>
<rect x="159" y="234" width="3" height="3" fill="rgb(32,0,0)"/>
<rect x="162" y="234" width="3" height="3" fill="rgb(26,0,0)"/>
<rect x="165" y="234" width="3" height="3" fill="rgb(61,0,0)"/>
<rect x="168" y="234" width="3" height="3" fill="rgb(52,0,0)"/>
<rect x="171" y="234" width="3" height="3" fill="rgb(75,0,0)"/>
<rect x="174" y="234" width="3" height="3" fill="rgb(91,0,0)"/>
<rect x="177" y="234" width="3" height="3" fill="rgb(53,0,0)"/>
<rect x="180" y="234" width="3" height="3" fill="rgb(56,0,0)"/>
<rect x="183" y="234" width="3" height="3" fill="rgb(126,0,0)"/>
<rect x="186" y="234" width="3" height="3" fill="rgb(136,0,0)"/>
<rect x="189" y="234" width="3" height="3" fill="rgb(105,0,0)"/>
<rect x="192" y="234" width="3" height="3" fill="rgb(66,0,0)"/>
<rect x="195" y="234" width="3" height="3" fill="rgb(68,0,0)"/>
<rect x="198" y="234" width="3" height="3" fill="rgb(156,0,0)"/>
<rect x="201" y="234" width="3" height="3" fill="rgb(136,0,0)"/>
<rect x="204" y="234" width="3" height="3" fill="rgb(90,0,0)"/>
<rect x="207" y="234" width="3" height="3" fill="rgb(101,0,0)"/>
<rect x="210" y="234" width="3" height="3" fill="rgb(92,0,0)"/>
<rect x="213" y="234" width="3" height="3" fill="rgb(30,0,0)"/>
<rect x="216" y="234" width="3" height="3" fill="rgb(56,0,0)"/>
<rect x="219" y="234" width="3" height="3" fill="rgb(52,0,0)"/>
<rect x="222" y="234" width="3" height="3" fill="rgb(38,0,0)"/>
<rect x="225" y="234" width="3" height="3" fill="rgb(29,0,0)"/>
<rect x="228" y="234" width="3" height="3" fill="rgb(15,0,0)"/>
<rect x="231" y="234" width="3" height="3" fill="rgb(13,0,0)"/>
<rect x="147" y="237" width="3" height="3" fill="rgb(11,1,0)"/>
<rect x="150" y="237" width="3" height="3" fill="rgb(10,0,0)"/>
<rect x="153" y="237" width="3" height="3" fill="rgb(13,0,0)"/>
<rect x="156" y="237" width="3" height="3" fill="rgb(19,0,0)"/>
<rect x="159" y="237" width="3" height="3" fill="rgb(38,0,0)"/>
<rect x="162" y="237" width="3" height="3" fill="rgb(47,0,0)"/>
<rect x="165" y="237" width="3" height="3" fill="rgb(45,0,0)"/>
<rect x="168" y="237" width="3" height="3" fill="rgb(54,0,0)"/>
<rect x="171" y="237" width="3" height="3" fill="rgb(41,0,0)"/>
<rect x="174" y="237" width="3" height="3" fill="rgb(110,0,0)"/>
<rect x="177" y="237" width="3" height="3" fill="rgb(103,0,0)"/>
<rect x="180" y="237" width="3" height="3" fill="rgb(91,0,0)"/>
<rect x="183" y="237" width="3" height="3" fill="rgb(70,0,0)"/>
<rect x="186" y="237" width="3" height="3" fill="rgb(103,0,0)"/>
<rect x="189" y="237" width="3" height="3" fill="rgb(135,0,0)"/>
<rect x="192" y="237" width="3" height="3" fill="rgb(94,0,0)"/>
<rect x="195" y="237" width="3" height="3" fill="rgb(97,0,0)"/>
<rect x="198" y="237" width="3" height="3" fill="rgb(126,0,0)"/>
<rect x="201" y="237" width="3" height="3" fill="rgb(117,0,0)"/>
<rect x="204" y="237" width="3" height="3" fill="rgb(55,0,0)"/>
<rect x="207" y="237" width="3" height="3" fill="rgb(51,0,0)"/>
<rect x="210" y="237" width="3" height="3" fill="rgb(62,0,0)"/>
<rect x="213" y="237" width="3" height="3" fill="rgb(66,0,0)"/>
<rect x="216" y="237" width="3" height="3" fill="rgb(38,0,0)"/>
<rect x="219" y="237" width="3" height="3" fill="rgb(18,0,0)"/>
<rect x="222" y="237" width="3" height="3" fill="rgb(20,0,0)"/>
<rect x="225" y="237" width="3" height="3" fill="rgb(14,0,0)"/>
<rect x="228" y="237" width="3" height="3" fill="rgb(19,0,0)"/>
<rect x="234" y="237" width="3" height="3" fill="rgb(12,0,0)"/>
<rect x="153" y="240" width="3" height="3" fill="rgb(16,0,0)"/>
<rect x="156" y="240" width="3" height="3" fill="rgb(21,0,0)"/>
<rect x="159" y="240" width="3" height="3" fill="rgb(15,0,0)"/>
<rect x="162" y="240" width="3" height="3" fill="rgb(45,0,0)"/>
<rect x="165" y="240" width="3" height="3" fill="rgb(52,0,0)"/>
<rect x="168" y="240" width="3" height="3" fill="rgb(76,0,0)"/>
<rect x="171" y="240" width="3" height="3" fill="rgb(75,0,0)"/>
<rect x="174" y="240" width="3" height="3" fill="rgb(167,0,0)"/>
<rect x="177" y="240" width="3" height="3" fill="rgb(124,0,0)"/>
<rect x="180" y="240" width="3" height="3" fill="rgb(148,0,0)"/>
<rect x="183" y="240" width="3" height="3" fill="rgb(175,0,0)"/>
<rect x="186" y="240" width="3" height="3" fill="rgb(144,0,0)"/>
<rect x="189" y="240" width="3" height="3" fill="rgb(74,0,0)"/>
<rect x="192" y="240" width="3" height="3" fill="rgb(71,0,0)"/>
<rect x="195" y="240" width="3" height="3" fill="rgb(82,0,0)"/>
<rect x="198" y="240" width="3" height="3" fill="rgb(72,0,0)"/>
<rect x="201" y="240" width="3" height="3" fill="rgb(145,0,0)"/>
<rect x="204" y="240" width="3" height="3" fill="rgb(98,0,0)"/>
<rect x="207" y="240" width="3" height="3" fill="rgb(76,0,0)"/>
<rect x="210" y="240" width="3" height="3" fill="rgb(55,0,0)"/>
<rect x="213" y="240" width="3" height="3" fill="rgb(48,0,0)"/>
<rect x="216" y="240" width="3" height="3" fill="rgb(35,0,0)"/>
<rect x="219" y="240" width="3" height="3" fill="rgb(35,0,0)"/>
<rect x="222" y="240" width="3" height="3" fill="rgb(21,0,0)"/>
<rect x="225" y="240" width="3" height="3" fill="rgb(23,0,0)"/>
<rect x="228" y="240" width="3" height="3" fill="rgb(17,0,0)"/>
<rect x="231" y="240" width="3" height="3" fill="rgb(13,0,0)"/>
<rect x="153" y="243" width="3" height="3" fill="rgb(10,0,0)"/>
<rect x="159" y="243" width="3" height="3" fill="rgb(24,0,0)"/>
<rect x="162" y="243" width="3" height="3" fill="rgb(22,0,0)"/>
<rect x="165" y="243" width="3" height="3" fill="rgb(59,0,0)"/>
<rect x="168" y="243" width="3" height="3" fill="rgb(93,0,0)"/>
<rect x="171" y="243" width="3" height="3" fill="rgb(98,0,0)"/>
<rect x="174" y="243" width="3" height="3" fill="rgb(146,0,0)"/>
<rect x="177" y="243" width="3" height="3" fill="rgb(186,0,0)"/>
<rect x="180" y="243" width="3" height="3" fill="rgb(131,0,0)"/>
<rect x="183" y="243" width="3" height="3" fill="rgb(81,0,0)"/>
<rect x="186" y="243" width="3" height="3" fill="rgb(108,0,0)"/>
<rect x="189" y="243" width="3" height="3" fill="rgb(72,0,0)"/>
<rect x="192" y="243" width="3" height="3" fill="rgb(70,0,0)"/>
<rect x="195" y="243" width="3" height="3" fill="rgb(115,0,0)"/>
<rect x="198" y="243" width="3" height="3" fill="rgb(110,0,0)"/>
<rect x="201" y="243" width="3" height="3" fill="rgb(77,0,0)"/>
<rect x="204" y="243" width="3" height="3" fill="rgb(41,0,0)"/>
<rect x="207" y="243" width="3" height="3" fill="rgb(77,0,0)"/>
<rect x="210" y="243" width="3" height="3" fill="rgb(38,0,0)"/>
<rect x="213" y="243" width="3" height="3" fill="rgb(24,0,0)"/>
<rect x="216" y="243" width="3" height="3" fill="rgb(37,0,0)"/>
<rect x="219" y="243" width="3" height="3" fill="rgb(32,0,0)"/>
<rect x="222" y="243" width="3" height="3" fill="rgb(14,0,0)"/>
<rect x="225" y="243" width="3" height="3" fill="rgb(14,0,0)"/>
<rect x="228" y="243" width="3" height="3" fill="rgb(14,0,0)"/>
<rect x="156" y="246" width="3" height="3" fill="rgb(10,0,0)"/>
<rect x="159" y="246" width="3" height="3" fill="rgb(20,0,0)"/>
<rect x="162" y="246" width="3" height="3" fill="rgb(25,0,0)"/>
<rect x="165" y="246" width="3" height="3" fill="rgb(47,0,0)"/>
<rect x="168" y="246" width="3" height="3" fill="rgb(107,0,0)"/>
<rect x="171" y="246" width="3" height="3" fill="rgb(99,0,0)"/>
<rect x="174" y="246" width="3" height="3" fill="rgb(198,0,0)"/>
<rect x="177" y="246" width="3" height="3" fill="rgb(237,0,0)"/>
<rect x="180" y="246" width="3" height="3" fill="rgb(227,0,0)"/>
<rect x="183" y="246" width="3" height="3" fill="rgb(194,0,0)"/>
<rect x="186" y="246" width="3" height="3" fill="rgb(89,0,0)"/>
<rect x="189" y="246" width="3" height="3" fill="rgb(80,0,0)"/>
<rect x="192" y="246" width="3" height="3" fill="rgb(66,0,0)"/>
<rect x="195" y="246" width="3" height="3" fill="rgb(40,0,0)"/>
<rect x="198" y="246" width="3" height="3" fill="rgb(79,0,0)"/>
<rect x="201" y="246" width="3" height="3" fill="rgb(84,0,0)"/>
<rect x="204" y="246" width="3" height="3" fill="rgb(54,0,0)"/>
<rect x="207" y="246" width="3" height="3" fill="rgb(40,0,0)"/>
<rect x="210" y="246" width="3" height="3" fill="rgb(31,0,0)"/>
<rect x="213" y="246" width="3" height="3" fill="rgb(26,0,0)"/>
<rect x="216" y="246" width="3" height="3" fill="rgb(19,0,0)"/>
<rect x="219" y="246" width="3" height="3" fill="rgb(13,0,0)"/>
<rect x="222" y="246" width="3" height="3" fill="rgb(19,0,0)"/>
<rect x="159" y="249" width="3" height="3" fill="rgb(14,0,0)"/>
<rect x="162" y="249" width="3" height="3" fill="rgb(28,0,0)"/>
<rect x="165" y="249" width="3" height="3" fill="rgb(37,0,0)"/>
<rect x="168" y="249" width="3" height="3" fill="rgb(104,0,0)"/>
<rect x="171" y="249" width="3" height="3" fill="rgb(112,0,0)"/>
<rect x="174" y="249" width="3" height="3" fill="rgb(164,0,0)"/>
<rect x="177" y="249" width="3" height="3" fill="rgb(255,0,0)"/>
<rect x="180" y="249" width="3" height="3" fill="rgb(196,0,0)"/>
<rect x="183" y="249" width="3" height="3" fill="rgb(78,0,0)"/>
<rect x="186" y="249" width="3" height="3" fill="rgb(60,0,0)"/>
<rect x="189" y="249" width="3" height="3" fill="rgb(61,0,0)"/>
<rect x="192" y="249" width="3" height="3" fill="rgb(39,0,0)"/>
<rect x="195" y="249" width="3" height="3" fill="rgb(24,0,0)"/>
<rect x="198" y="249" width="3" height="3" fill="rgb(50,0,0)"/>
<rect x="201" y="249" width="3" height="3" fill="rgb(30,0,0)"/>
<rect x="204" y="249" width="3" height="3" fill="rgb(44,0,0)"/>
<rect x="207" y="249" width="3" height="3" fill="rgb(24,0,0)"/>
<rect x="210" y="249" width="3" height="3" fill="rgb(16,0,0)"/>
<rect x="213" y="249" width="3" height="3" fill="rgb(17,0,0)"/>
<rect x="216" y="249" width="3" height="3" fill="rgb(19,0,0)"/>
<rect x="219" y="249" width="3" height="3" fill="rgb(16,0,0)"/>
<rect x="162" y="252" width="3" height="3" fill="rgb(19,0,0)"/>
<rect x="165" y="252" width="3" height="3" fill="rgb(35,0,0)"/>
<rect x="168" y="252" width="3" height="3" fill="rgb(63,0,0)"/>
<rect x="171" y="252" width="3" height="3" fill="rgb(43,0,0)"/>
<rect x="174" y="252" width="3" height="3" fill="rgb(152,0,0)"/>
<rect x="177" y="252" width="3" height="3" fill="rgb(124,0,0)"/>
<rect x="180" y="252" width="3" height="3" fill="rgb(71,0,0)"/>
<rect x="183" y="252" width="3" height="3" fill="rgb(117,0,0)"/>
<rect x="186" y="252" width="3" height="3" fill="rgb(34,0,0)"/>
<rect x="189" y="252" width="3" height="3" fill="rgb(52,0,0)"/>
<rect x="192" y="252" width="3" height="3" fill="rgb(15,0,0)"/>
<rect x="195" y="252" width="3" height="3" fill="rgb(14,0,0)"/>
<rect x="198" y="252" width="3" height="3" fill="rgb(22,0,0)"/>
<rect x="201" y="252" width="3" height="3" fill="rgb(23,0,0)"/>
<rect x="204" y="252" width="3" height="3" fill="rgb(20,0,0)"/>
<rect x="207" y="252" width="3" height="3" fill="rgb(21,0,0)"/>
<rect x="213" y="252" width="3" height="3" fill="rgb(13,0,0)"/>
<rect x="219" y="252" width="3" height="3" fill="rgb(10,0,0)"/>
<rect x="165" y="255" width="3" height="3" fill="rgb(16,0,0)"/>
<rect x="168" y="255" width="3" height="3" fill="rgb(24,0,0)"/>
<rect x="171" y="255" width="3" height="3" fill="rgb(52,0,0)"/>
<rect x="174" y="255" width="3" height="3" fill="rgb(72,0,0)"/>
<rect x="177" y="255" width="3" height="3" fill="rgb(46,0,0)"/>
<rect x="180" y="255" width="3" height="3" fill="rgb(31,0,0)"/>
<rect x="183" y="255" width="3" height="3" fill="rgb(31,0,0)"/>
<rect x="186" y="255" width="3" height="3" fill="rgb(35,0,0)"/>
<rect x="189" y="255" width="3" height="3" fill="rgb(17,0,0)"/>
<rect x="195" y="255" width="3" height="3" fill="rgb(18,0,0)"/>
<rect x="198" y="255" width="3" height="3" fill="rgb(11,0,0)"/>
<rect x="204" y="255" width="3" height="3" fill="rgb(12,0,0)"/>
<rect x="210" y="255" width="3" height="3" fill="rgb(10,0,0)"/>
<rect x="162" y="258" width="3" height="3" fill="rgb(11,0,0)"/>
<rect x="165" y="258" width="3" height="3" fill="rgb(14,0,0)"/>
<rect x="168" y="258" width="3" height="3" fill="rgb(34,0,0)"/>
<rect x="171" y="258" width="3" height="3" fill="rgb(41,0,0)"/>
<rect x="174" y="258" width="3" height="3" fill="rgb(31,0,0)"/>
<rect x="177" y="258" width="3" height="3" fill="rgb(35,0,0)"/>
<rect x="180" y="258" width="3" height="3" fill="rgb(40,0,0)"/>
<rect x="183" y="258" width="3" height="3" fill="rgb(26,0,0)"/>
<rect x="186" y="258" width="3" height="3" fill="rgb(20,0,0)"/>
<rect x="189" y="258" width="3" height="3" fill="rgb(10,0,0)"/>
<rect x="192" y="258" width="3" height="3" fill="rgb(10,0,0)"/>
<rect x="165" y="261" width="3" height="3" fill="rgb(22,0,0)"/>
<rect x="168" y="261" width="3" height="3" fill="rgb(21,0,0)"/>
<rect x="171" y="261" width="3" height="3" fill="rgb(38,0,0)"/>
<rect x="174" y="261" width="3" height="3" fill="rgb(34,0,0)"/>
<rect x="177" y="261" width="3" height="3" fill="rgb(56,0,0)"/>
<rect x="180" y="261" width="3" height="3" fill="rgb(35,0,0)"/>
<rect x="183" y="261" width="3" height="3" fill="rgb(21,0,0)"/>
<rect x="186" y="261" width="3" height="3" fill="rgb(11,0,0)"/>
<rect x="189" y="261" width="3" height="3" fill="rgb(10,0,0)"/>
<rect x="162" y="264" width="3" height="3" fill="rgb(10,0,0)"/>
<rect x="165" y="264" width="3" height="3" fill="rgb(19,0,0)"/>
<rect x="168" y="264" width="3" height="3" fill="rgb(30,0,0)"/>
<rect x="171" y="264" width="3" height="3" fill="rgb(45,0,0)"/>
<rect x="174" y="264" width="3" height="3" fill="rgb(41,0,0)"/>
<rect x="177" y="264" width="3" height="3" fill="rgb(37,0,0)"/>
<rect x="180" y="264" width="3" height="3" fill="rgb(27,0,0)"/>
<rect x="183" y="264" width="3" height="3" fill="rgb(30,0,0)"/>
<rect x="186" y="264" width="3" height="3" fill="rgb(24,0,0)"/>
<rect x="162" y="267" width="3" height="3" fill="rgb(15,0,0)"/>
<rect x="165" y="267" width="3" height="3" fill="rgb(17,0,0)"/>
<rect x="168" y="267" width="3" height="3" fill="rgb(41,0,0)"/>
<rect x="171" y="267" width="3" height="3" fill="rgb(46,0,0)"/>
<rect x="174" y="267" width="3" height="3" fill="rgb(40,0,0)"/>
<rect x="177" y="267" width="3" height="3" fill="rgb(57,0,0)"/>
<rect x="180" y="267" width="3" height="3" fill="rgb(31,0,0)"/>
<rect x="183" y="267" width="3" height="3" fill="rgb(18,0,0)"/>
<rect x="189" y="267" width="3" height="3" fill="rgb(10,0,0)"/>
<rect x="162" y="270" width="3" height="3" fill="rgb(18,0,0)"/>
<rect x="165" y="270" width="3" height="3" fill="rgb(17,0,0)"/>
<rect x="168" y="270" width="3" height="3" fill="rgb(30,0,0)"/>
<rect x="171" y="270" width="3" height="3" fill="rgb(33,0,0)"/>
<rect x="174" y="270" width="3" height="3" fill="rgb(44,0,0)"/>
<rect x="177" y="270" width="3" height="3" fill="rgb(51,0,0)"/>
<rect x="180" y="270" width="3" height="3" fill="rgb(47,0,0)"/>
<rect x="183" y="270" width="3" height="3" fill="rgb(26,0,0)"/>
<rect x="186" y="270" width="3" height="3" fill="rgb(21,0,0)"/>
<rect x="165" y="273" width="3" height="3" fill="rgb(16,0,0)"/>
<rect x="168" y="273" width="3" height="3" fill="rgb(22,0,0)"/>
<rect x="171" y="273" width="3" height="3" fill="rgb(27,0,0)"/>
<rect x="174" y="273" width="3" height="3" fill="rgb(47,0,0)"/>
<rect x="177" y="273" width="3" height="3" fill="rgb(23,0,0)"/>
<rect x="180" y="273" width="3" height="3" fill="rgb(35,0,0)"/>
<rect x="183" y="273" width="3" height="3" fill="rgb(12,0,0)"/>
<rect x="186" y="273" width="3" height="3" fill="rgb(14,0,0)"/>
<rect x="168" y="276" width="3" height="3" fill="rgb(10,0,0)"/>
<rect x="171" y="276" width="3" height="3" fill="rgb(12,0,0)"/>
<rect x="174" y="276" width="3" height="3" fill="rgb(12,0,0)"/>
<rect x="177" y="276" width="3" height="3" fill="rgb(22,0,0)"/>
<rect x="180" y="276" width="3" height="3" fill="rgb(13,0,0)"/>
<rect x="183" y="276" width="3" height="3" fill="rgb(16,0,0)"/>
<rect x="168" y="279" width="3" height="3" fill="rgb(12,0,0)"/>
<rect x="174" y="279" width="3" height="3" fill="rgb(11,0,0)"/>
<rect x="177" y="279" width="3" height="3" fill="rgb(17,0,0)"/>
<rect x="180" y="279" width="3" height="3" fill="rgb(12,0,0)"/>
<rect x="183" y="279" width="3" height="3" fill="rgb(10,0,0)"/>
</g>
<circle cx="185" cy="177" r="40" fill="none" stroke="#fff" stroke-width="1.6"/>
<circle cx="185" cy="177" r="80" fill="none" stroke="#fff" stroke-width="1.6"/>
<circle cx="185" cy="177" r="120" fill="none" stroke="#fff" stroke-width="1.6"/>
<circle cx="185" cy="177" r="160" fill="none" stroke="#fff" stroke-width="1.6"/>
<line x1="116" y1="121.5" x2="169.5" y2="251" stroke="#fff" stroke-width="1.6" stroke-dasharray="4.2 3.4"/>
</g>
<text x="329" y="45.6" class="w" font-size="20.5" fill="#fff" text-anchor="middle">A</text>
<rect x="137.2" y="28.6" width="123.5" height="100.7" fill="#fff"/>
<rect x="169.1" y="34.8" width="88.5" height="69.8" fill="none" stroke="#5a5a5a" stroke-width="0.9"/>
<text x="166.7" y="47.5" font-size="9.8" text-anchor="end" fill="#000">3.0</text>
<line x1="169.1" y1="44.3" x2="170.6" y2="44.3" stroke="#444" stroke-width="0.6"/>
<text x="166.7" y="68.1" font-size="9.8" text-anchor="end" fill="#000">2.9</text>
<line x1="169.1" y1="64.9" x2="170.6" y2="64.9" stroke="#444" stroke-width="0.6"/>
<text x="166.7" y="88.6" font-size="9.8" text-anchor="end" fill="#000">2.8</text>
<line x1="169.1" y1="85.4" x2="170.6" y2="85.4" stroke="#444" stroke-width="0.6"/>
<text x="166.7" y="108.4" font-size="9.8" text-anchor="end" fill="#000">2.7</text>
<line x1="169.1" y1="105.2" x2="170.6" y2="105.2" stroke="#444" stroke-width="0.6"/>
<text x="169.9" y="115.8" font-size="9.8" text-anchor="middle" fill="#000">200</text>
<line x1="169.9" y1="104.6" x2="169.9" y2="103.1" stroke="#444" stroke-width="0.6"/>
<line x1="169.9" y1="34.8" x2="169.9" y2="36.3" stroke="#444" stroke-width="0.6"/>
<line x1="179.6" y1="104.6" x2="179.6" y2="103.1" stroke="#444" stroke-width="0.6"/>
<line x1="179.6" y1="34.8" x2="179.6" y2="36.3" stroke="#444" stroke-width="0.6"/>
<text x="189.0" y="115.8" font-size="9.8" text-anchor="middle" fill="#000">600</text>
<line x1="189.0" y1="104.6" x2="189.0" y2="103.1" stroke="#444" stroke-width="0.6"/>
<line x1="189.0" y1="34.8" x2="189.0" y2="36.3" stroke="#444" stroke-width="0.6"/>
<line x1="198.7" y1="104.6" x2="198.7" y2="103.1" stroke="#444" stroke-width="0.6"/>
<line x1="198.7" y1="34.8" x2="198.7" y2="36.3" stroke="#444" stroke-width="0.6"/>
<text x="208.4" y="115.8" font-size="9.8" text-anchor="middle" fill="#000">1000</text>
<line x1="208.4" y1="104.6" x2="208.4" y2="103.1" stroke="#444" stroke-width="0.6"/>
<line x1="208.4" y1="34.8" x2="208.4" y2="36.3" stroke="#444" stroke-width="0.6"/>
<line x1="218.1" y1="104.6" x2="218.1" y2="103.1" stroke="#444" stroke-width="0.6"/>
<line x1="218.1" y1="34.8" x2="218.1" y2="36.3" stroke="#444" stroke-width="0.6"/>
<text x="227.6" y="115.8" font-size="9.8" text-anchor="middle" fill="#000">1400</text>
<line x1="227.6" y1="104.6" x2="227.6" y2="103.1" stroke="#444" stroke-width="0.6"/>
<line x1="227.6" y1="34.8" x2="227.6" y2="36.3" stroke="#444" stroke-width="0.6"/>
<line x1="237.3" y1="104.6" x2="237.3" y2="103.1" stroke="#444" stroke-width="0.6"/>
<line x1="237.3" y1="34.8" x2="237.3" y2="36.3" stroke="#444" stroke-width="0.6"/>
<text x="247.2" y="115.8" font-size="9.8" text-anchor="middle" fill="#000">1800</text>
<line x1="247.2" y1="104.6" x2="247.2" y2="103.1" stroke="#444" stroke-width="0.6"/>
<line x1="247.2" y1="34.8" x2="247.2" y2="36.3" stroke="#444" stroke-width="0.6"/>
<text x="169" y="37.3" font-size="9.6" text-anchor="end" fill="#000">I (A.U.)</text>
<text x="213.3" y="127.8" font-size="11.25" text-anchor="middle" fill="#000">Raman shift (cm<tspan font-size="7" dy="-4">-1</tspan><tspan dy="4">)</tspan></text>
<polyline points="171.1,97.1 171.6,86.5 172.3,75.9 173.0,74.2 173.9,75.9 174.9,78.2 175.8,77.1 176.8,74.2 177.7,70.0 178.4,58.2 179.4,39.9 180.1,50.0 180.8,59.4 181.5,58.2 181.9,57.8 182.6,67.6 183.6,75.9 184.8,78.9 185.7,80.6 186.9,79.9 188.1,81.3 189.5,82.2 190.9,82.9 192.3,84.6 193.7,85.3 194.6,82.9 195.4,77.5 196.1,83.6 197.0,85.5 198.4,84.6 199.6,82.2 200.8,81.1 201.7,82.9 202.6,86.0 204.1,87.6 205.5,88.4 206.9,87.6 207.8,85.3 208.5,82.9 209.5,86.5 210.6,88.4 212.1,87.6 213.2,86.0 214.4,84.6 215.4,86.0 216.5,88.8 217.9,90.7 219.4,91.6 220.5,90.0 221.5,88.8 222.4,91.6 223.8,92.4 224.8,90.7 225.7,86.9 226.4,86.0 227.1,90.7 228.3,93.1 229.7,94.0 231.1,94.7 232.5,97.1 233.9,98.2 235.4,98.9 236.3,95.9 237.0,93.1 237.7,97.1 238.6,100.1 240.3,101.1 242.6,101.8 244.5,101.3 245.7,101.1 247.4,102.0 250.2,102.5 253.2,102.9 256.8,103.6" fill="none" stroke="#1010e0" stroke-width="1.1" stroke-linejoin="round"/>
<rect x="0" y="173.6" width="123.5" height="106.3" fill="#fff"/>
<rect x="31.9" y="181.5" width="87.9" height="71.2" fill="none" stroke="#5a5a5a" stroke-width="0.9"/>
<text x="29.5" y="191.9" font-size="9.8" text-anchor="end" fill="#000">9.6</text>
<line x1="31.9" y1="188.7" x2="33.4" y2="188.7" stroke="#444" stroke-width="0.6"/>
<text x="29.5" y="206.3" font-size="9.8" text-anchor="end" fill="#000">9.4</text>
<line x1="31.9" y1="203.1" x2="33.4" y2="203.1" stroke="#444" stroke-width="0.6"/>
<text x="29.5" y="220.8" font-size="9.8" text-anchor="end" fill="#000">9.2</text>
<line x1="31.9" y1="217.6" x2="33.4" y2="217.6" stroke="#444" stroke-width="0.6"/>
<text x="29.5" y="234.9" font-size="9.8" text-anchor="end" fill="#000">9.0</text>
<line x1="31.9" y1="231.7" x2="33.4" y2="231.7" stroke="#444" stroke-width="0.6"/>
<text x="29.5" y="249.5" font-size="9.8" text-anchor="end" fill="#000">8.8</text>
<line x1="31.9" y1="246.3" x2="33.4" y2="246.3" stroke="#444" stroke-width="0.6"/>
<text x="32" y="262.5" font-size="9.8" text-anchor="middle" fill="#000">200</text>
<line x1="32.0" y1="252.7" x2="32.0" y2="251.2" stroke="#444" stroke-width="0.6"/>
<line x1="32.0" y1="181.5" x2="32.0" y2="183.0" stroke="#444" stroke-width="0.6"/>
<line x1="41.7" y1="252.7" x2="41.7" y2="251.2" stroke="#444" stroke-width="0.6"/>
<line x1="41.7" y1="181.5" x2="41.7" y2="183.0" stroke="#444" stroke-width="0.6"/>
<text x="51.2" y="262.5" font-size="9.8" text-anchor="middle" fill="#000">600</text>
<line x1="51.2" y1="252.7" x2="51.2" y2="251.2" stroke="#444" stroke-width="0.6"/>
<line x1="51.2" y1="181.5" x2="51.2" y2="183.0" stroke="#444" stroke-width="0.6"/>
<line x1="60.9" y1="252.7" x2="60.9" y2="251.2" stroke="#444" stroke-width="0.6"/>
<line x1="60.9" y1="181.5" x2="60.9" y2="183.0" stroke="#444" stroke-width="0.6"/>
<text x="70.5" y="262.5" font-size="9.8" text-anchor="middle" fill="#000">1000</text>
<line x1="70.5" y1="252.7" x2="70.5" y2="251.2" stroke="#444" stroke-width="0.6"/>
<line x1="70.5" y1="181.5" x2="70.5" y2="183.0" stroke="#444" stroke-width="0.6"/>
<line x1="80.2" y1="252.7" x2="80.2" y2="251.2" stroke="#444" stroke-width="0.6"/>
<line x1="80.2" y1="181.5" x2="80.2" y2="183.0" stroke="#444" stroke-width="0.6"/>
<text x="89.6" y="262.5" font-size="9.8" text-anchor="middle" fill="#000">1400</text>
<line x1="89.6" y1="252.7" x2="89.6" y2="251.2" stroke="#444" stroke-width="0.6"/>
<line x1="89.6" y1="181.5" x2="89.6" y2="183.0" stroke="#444" stroke-width="0.6"/>
<line x1="99.3" y1="252.7" x2="99.3" y2="251.2" stroke="#444" stroke-width="0.6"/>
<line x1="99.3" y1="181.5" x2="99.3" y2="183.0" stroke="#444" stroke-width="0.6"/>
<text x="108.8" y="262.5" font-size="9.8" text-anchor="middle" fill="#000">1800</text>
<line x1="108.8" y1="252.7" x2="108.8" y2="251.2" stroke="#444" stroke-width="0.6"/>
<line x1="108.8" y1="181.5" x2="108.8" y2="183.0" stroke="#444" stroke-width="0.6"/>
<line x1="118.5" y1="252.7" x2="118.5" y2="251.2" stroke="#444" stroke-width="0.6"/>
<line x1="118.5" y1="181.5" x2="118.5" y2="183.0" stroke="#444" stroke-width="0.6"/>
<text x="31.5" y="183.6" font-size="9.6" text-anchor="end" fill="#000">I (A.U.)</text>
<text x="75.2" y="274.0" font-size="11.25" text-anchor="middle" fill="#000">Raman shift (cm<tspan font-size="7" dy="-4">-1</tspan><tspan dy="4">)</tspan></text>
<polyline points="34.4,240.7 34.6,227.8 35.1,214.8 35.8,210.1 36.7,213.6 37.6,218.4 38.6,220.7 39.5,217.9 40.5,208.9 41.2,197.2 42.1,184.2 42.8,198.4 43.5,206.6 44.2,202.4 44.9,211.3 45.9,219.5 46.8,222.6 48.0,221.9 49.2,220.2 50.1,222.6 51.3,224.2 52.5,223.1 53.4,225.9 54.8,226.6 56.2,225.4 57.2,223.1 57.9,218.4 58.6,224.2 59.5,225.9 60.9,225.4 62.1,223.1 63.1,219.5 64.0,217.9 64.7,223.1 65.6,225.9 67.1,224.9 68.5,225.4 69.6,221.9 70.6,215.5 71.3,220.2 72.0,217.9 72.7,221.9 73.6,223.1 74.6,219.5 75.5,213.6 76.5,213.2 77.4,212.5 78.4,217.2 79.3,221.9 80.7,223.8 82.1,223.1 83.1,219.5 84.0,214.8 84.7,212.5 85.6,217.2 86.6,219.5 87.5,213.6 88.5,212.0 89.4,218.4 90.4,223.1 91.3,226.6 92.2,228.2 93.2,225.9 94.1,228.9 95.1,232.0 96.2,232.5 97.4,230.1 98.4,226.6 99.1,224.7 99.8,232.5 100.5,238.4 101.4,241.4 102.8,243.1 104.7,244.2 107.1,245.6 109.9,247.3 112.7,248.5 115.5,249.9 118.8,251.1" fill="none" stroke="#38f838" stroke-width="1.1" stroke-linejoin="round"/>
<rect x="217.8" y="208.2" width="127.2" height="102" fill="#fff"/>
<rect x="252.2" y="214.8" width="88.5" height="71.7" fill="none" stroke="#5a5a5a" stroke-width="0.9"/>
<text x="249.79999999999998" y="225.4" font-size="9.8" text-anchor="end" fill="#000">1.20</text>
<line x1="252.2" y1="222.2" x2="253.7" y2="222.2" stroke="#444" stroke-width="0.6"/>
<text x="249.79999999999998" y="241.6" font-size="9.8" text-anchor="end" fill="#000">1.18</text>
<line x1="252.2" y1="238.4" x2="253.7" y2="238.4" stroke="#444" stroke-width="0.6"/>
<text x="249.79999999999998" y="257.5" font-size="9.8" text-anchor="end" fill="#000">1.16</text>
<line x1="252.2" y1="254.3" x2="253.7" y2="254.3" stroke="#444" stroke-width="0.6"/>
<text x="249.79999999999998" y="273.2" font-size="9.8" text-anchor="end" fill="#000">1.14</text>
<line x1="252.2" y1="270" x2="253.7" y2="270" stroke="#444" stroke-width="0.6"/>
<text x="249.79999999999998" y="288.6" font-size="9.8" text-anchor="end" fill="#000">1.12</text>
<line x1="252.2" y1="285.4" x2="253.7" y2="285.4" stroke="#444" stroke-width="0.6"/>
<text x="253" y="296.8" font-size="9.8" text-anchor="middle" fill="#000">200</text>
<line x1="253.0" y1="286.5" x2="253.0" y2="285.0" stroke="#444" stroke-width="0.6"/>
<line x1="253.0" y1="214.8" x2="253.0" y2="216.3" stroke="#444" stroke-width="0.6"/>
<line x1="262.7" y1="286.5" x2="262.7" y2="285.0" stroke="#444" stroke-width="0.6"/>
<line x1="262.7" y1="214.8" x2="262.7" y2="216.3" stroke="#444" stroke-width="0.6"/>
<text x="272.3" y="296.8" font-size="9.8" text-anchor="middle" fill="#000">600</text>
<line x1="272.3" y1="286.5" x2="272.3" y2="285.0" stroke="#444" stroke-width="0.6"/>
<line x1="272.3" y1="214.8" x2="272.3" y2="216.3" stroke="#444" stroke-width="0.6"/>
<line x1="282.0" y1="286.5" x2="282.0" y2="285.0" stroke="#444" stroke-width="0.6"/>
<line x1="282.0" y1="214.8" x2="282.0" y2="216.3" stroke="#444" stroke-width="0.6"/>
<text x="291.9" y="296.8" font-size="9.8" text-anchor="middle" fill="#000">1000</text>
<line x1="291.9" y1="286.5" x2="291.9" y2="285.0" stroke="#444" stroke-width="0.6"/>
<line x1="291.9" y1="214.8" x2="291.9" y2="216.3" stroke="#444" stroke-width="0.6"/>
<line x1="301.6" y1="286.5" x2="301.6" y2="285.0" stroke="#444" stroke-width="0.6"/>
<line x1="301.6" y1="214.8" x2="301.6" y2="216.3" stroke="#444" stroke-width="0.6"/>
<text x="311.3" y="296.8" font-size="9.8" text-anchor="middle" fill="#000">1400</text>
<line x1="311.3" y1="286.5" x2="311.3" y2="285.0" stroke="#444" stroke-width="0.6"/>
<line x1="311.3" y1="214.8" x2="311.3" y2="216.3" stroke="#444" stroke-width="0.6"/>
<line x1="321.0" y1="286.5" x2="321.0" y2="285.0" stroke="#444" stroke-width="0.6"/>
<line x1="321.0" y1="214.8" x2="321.0" y2="216.3" stroke="#444" stroke-width="0.6"/>
<text x="331.2" y="296.8" font-size="9.8" text-anchor="middle" fill="#000">1800</text>
<line x1="331.2" y1="286.5" x2="331.2" y2="285.0" stroke="#444" stroke-width="0.6"/>
<line x1="331.2" y1="214.8" x2="331.2" y2="216.3" stroke="#444" stroke-width="0.6"/>
<text x="249.6" y="216.6" font-size="9.6" text-anchor="end" fill="#000">I (A.U.)</text>
<text x="295.7" y="307.8" font-size="11.25" text-anchor="middle" fill="#000">Raman shift (cm<tspan font-size="7" dy="-4">-1</tspan><tspan dy="4">)</tspan></text>
<polyline points="254.6,278.2 255.1,264.1 255.8,248.8 256.7,244.1 257.9,248.8 259.1,255.9 260.2,262.9 261.4,266.5 262.6,264.6 263.5,262.2 264.2,247.6 264.9,236.4 265.6,250.0 266.4,262.9 267.3,270.0 268.7,268.8 269.9,266.5 270.8,263.6 271.8,265.3 272.7,260.6 273.4,250.0 274.1,260.6 275.1,266.5 276.2,268.8 277.9,268.4 279.3,266.0 280.5,266.5 281.6,262.9 282.6,260.6 283.3,262.2 284.0,258.2 284.9,261.8 285.9,263.6 286.8,265.3 287.5,260.6 288.5,250.5 289.2,257.1 289.9,262.9 291.1,262.2 291.8,264.6 292.7,258.2 293.4,242.9 294.1,220.6 294.8,240.6 295.5,257.1 296.5,258.9 297.2,245.3 297.9,232.4 298.6,247.6 299.3,258.2 300.2,259.4 301.6,257.1 303.1,255.9 304.0,250.0 304.7,235.9 305.6,220.6 306.6,222.9 307.5,230.0 308.7,239.4 309.6,247.6 310.6,253.5 311.5,251.9 312.5,245.3 313.4,237.1 314.4,228.8 315.1,240.6 315.8,253.5 316.5,242.9 317.2,250.0 317.9,246.5 318.6,253.5 319.3,251.2 320.0,258.2 320.9,265.3 322.4,268.8 323.8,271.6 325.2,271.2 326.6,271.6 328.0,273.5 330.4,275.9 333.9,279.4 337.4,282.9 340.2,285.8" fill="none" stroke="#f01010" stroke-width="1.1" stroke-linejoin="round"/>
<rect x="410.5" y="39.2" width="272.5" height="273.0" fill="none" stroke="#4a4a4a" stroke-width="1.15"/>
<line x1="410.5" y1="312.2" x2="410.5" y2="309.2" stroke="#4a4a4a" stroke-width="0.8"/>
<line x1="410.5" y1="39.2" x2="410.5" y2="42.2" stroke="#4a4a4a" stroke-width="0.8"/>
<line x1="410.5" y1="39.2" x2="413.5" y2="39.2" stroke="#4a4a4a" stroke-width="0.8"/>
<line x1="683" y1="39.2" x2="680" y2="39.2" stroke="#4a4a4a" stroke-width="0.8"/>
<line x1="444.6" y1="312.2" x2="444.6" y2="310.0" stroke="#4a4a4a" stroke-width="0.8"/>
<line x1="444.6" y1="39.2" x2="444.6" y2="41.400000000000006" stroke="#4a4a4a" stroke-width="0.8"/>
<line x1="410.5" y1="73.3" x2="412.7" y2="73.3" stroke="#4a4a4a" stroke-width="0.8"/>
<line x1="683" y1="73.3" x2="680.8" y2="73.3" stroke="#4a4a4a" stroke-width="0.8"/>
<line x1="478.6" y1="312.2" x2="478.6" y2="309.2" stroke="#4a4a4a" stroke-width="0.8"/>
<line x1="478.6" y1="39.2" x2="478.6" y2="42.2" stroke="#4a4a4a" stroke-width="0.8"/>
<line x1="410.5" y1="107.5" x2="413.5" y2="107.5" stroke="#4a4a4a" stroke-width="0.8"/>
<line x1="683" y1="107.5" x2="680" y2="107.5" stroke="#4a4a4a" stroke-width="0.8"/>
<line x1="512.7" y1="312.2" x2="512.7" y2="310.0" stroke="#4a4a4a" stroke-width="0.8"/>
<line x1="512.7" y1="39.2" x2="512.7" y2="41.400000000000006" stroke="#4a4a4a" stroke-width="0.8"/>
<line x1="410.5" y1="141.6" x2="412.7" y2="141.6" stroke="#4a4a4a" stroke-width="0.8"/>
<line x1="683" y1="141.6" x2="680.8" y2="141.6" stroke="#4a4a4a" stroke-width="0.8"/>
<line x1="546.8" y1="312.2" x2="546.8" y2="309.2" stroke="#4a4a4a" stroke-width="0.8"/>
<line x1="546.8" y1="39.2" x2="546.8" y2="42.2" stroke="#4a4a4a" stroke-width="0.8"/>
<line x1="410.5" y1="175.7" x2="413.5" y2="175.7" stroke="#4a4a4a" stroke-width="0.8"/>
<line x1="683" y1="175.7" x2="680" y2="175.7" stroke="#4a4a4a" stroke-width="0.8"/>
<line x1="580.8" y1="312.2" x2="580.8" y2="310.0" stroke="#4a4a4a" stroke-width="0.8"/>
<line x1="580.8" y1="39.2" x2="580.8" y2="41.400000000000006" stroke="#4a4a4a" stroke-width="0.8"/>
<line x1="410.5" y1="209.8" x2="412.7" y2="209.8" stroke="#4a4a4a" stroke-width="0.8"/>
<line x1="683" y1="209.8" x2="680.8" y2="209.8" stroke="#4a4a4a" stroke-width="0.8"/>
<line x1="614.9" y1="312.2" x2="614.9" y2="309.2" stroke="#4a4a4a" stroke-width="0.8"/>
<line x1="614.9" y1="39.2" x2="614.9" y2="42.2" stroke="#4a4a4a" stroke-width="0.8"/>
<line x1="410.5" y1="243.9" x2="413.5" y2="243.9" stroke="#4a4a4a" stroke-width="0.8"/>
<line x1="683" y1="243.9" x2="680" y2="243.9" stroke="#4a4a4a" stroke-width="0.8"/>
<line x1="648.9" y1="312.2" x2="648.9" y2="310.0" stroke="#4a4a4a" stroke-width="0.8"/>
<line x1="648.9" y1="39.2" x2="648.9" y2="41.400000000000006" stroke="#4a4a4a" stroke-width="0.8"/>
<line x1="410.5" y1="278.1" x2="412.7" y2="278.1" stroke="#4a4a4a" stroke-width="0.8"/>
<line x1="683" y1="278.1" x2="680.8" y2="278.1" stroke="#4a4a4a" stroke-width="0.8"/>
<line x1="683.0" y1="312.2" x2="683.0" y2="309.2" stroke="#4a4a4a" stroke-width="0.8"/>
<line x1="683.0" y1="39.2" x2="683.0" y2="42.2" stroke="#4a4a4a" stroke-width="0.8"/>
<line x1="410.5" y1="312.2" x2="413.5" y2="312.2" stroke="#4a4a4a" stroke-width="0.8"/>
<line x1="683" y1="312.2" x2="680" y2="312.2" stroke="#4a4a4a" stroke-width="0.8"/>
<text x="410.5" y="324.2" font-size="10.5" text-anchor="middle" fill="#000">-4</text>
<text x="478.6" y="324.2" font-size="10.5" text-anchor="middle" fill="#000">-3</text>
<text x="546.8" y="324.2" font-size="10.5" text-anchor="middle" fill="#000">-2</text>
<text x="614.9" y="324.2" font-size="10.5" text-anchor="middle" fill="#000">-1</text>
<text x="683.0" y="324.2" font-size="10.5" text-anchor="middle" fill="#000">0</text>
<text x="407.9" y="42.6" font-size="10.5" text-anchor="end" fill="#000">2</text>
<text x="407.9" y="110.9" font-size="10.5" text-anchor="end" fill="#000">1</text>
<text x="407.9" y="179.1" font-size="10.5" text-anchor="end" fill="#000">0</text>
<text x="407.9" y="247.3" font-size="10.5" text-anchor="end" fill="#000">-1</text>
<text x="407.9" y="315.6" font-size="10.5" text-anchor="end" fill="#000">-2</text>
<text x="545" y="339.8" font-size="14" text-anchor="middle" fill="#000">PC 1</text>
<text transform="translate(391.2 176.5) rotate(-90)" font-size="14" text-anchor="middle" fill="#000">PC 2</text>
<text x="667.5" y="60.6" font-size="20" text-anchor="middle" fill="#000">B2</text>
<g fill="none" stroke="#00f000" stroke-width="0.65">
<circle cx="631.5" cy="178.5" r="1.35"/>
<circle cx="670.1" cy="168.2" r="1.35"/>
<circle cx="659.3" cy="171.6" r="1.35"/>
<circle cx="670.9" cy="169.2" r="1.35"/>
<circle cx="641.9" cy="172.2" r="1.35"/>
<circle cx="650.6" cy="163.1" r="1.35"/>
<circle cx="670.3" cy="167.7" r="1.35"/>
<circle cx="656.9" cy="167.0" r="1.35"/>
<circle cx="653.3" cy="181.9" r="1.35"/>
<circle cx="667.1" cy="172.5" r="1.35"/>
<circle cx="658.1" cy="162.2" r="1.35"/>
<circle cx="650.8" cy="176.3" r="1.35"/>
<circle cx="644.8" cy="167.1" r="1.35"/>
<circle cx="639.1" cy="177.7" r="1.35"/>
<circle cx="674.8" cy="171.3" r="1.35"/>
<circle cx="645.2" cy="179.0" r="1.35"/>
<circle cx="673.7" cy="174.2" r="1.35"/>
<circle cx="656.7" cy="166.9" r="1.35"/>
<circle cx="672.6" cy="170.9" r="1.35"/>
<circle cx="672.3" cy="173.7" r="1.35"/>
<circle cx="672.7" cy="174.6" r="1.35"/>
<circle cx="635.6" cy="186.1" r="1.35"/>
<circle cx="653.3" cy="170.2" r="1.35"/>
<circle cx="659.2" cy="173.0" r="1.35"/>
<circle cx="675.3" cy="169.0" r="1.35"/>
<circle cx="646.7" cy="175.9" r="1.35"/>
<circle cx="632.4" cy="172.8" r="1.35"/>
<circle cx="647.1" cy="169.7" r="1.35"/>
<circle cx="662.0" cy="165.7" r="1.35"/>
<circle cx="631.2" cy="186.9" r="1.35"/>
<circle cx="660.9" cy="185.1" r="1.35"/>
<circle cx="653.3" cy="175.5" r="1.35"/>
<circle cx="656.9" cy="171.1" r="1.35"/>
<circle cx="647.3" cy="163.0" r="1.35"/>
<circle cx="671.9" cy="175.9" r="1.35"/>
<circle cx="659.2" cy="185.3" r="1.35"/>
<circle cx="653.7" cy="180.5" r="1.35"/>
<circle cx="671.3" cy="176.0" r="1.35"/>
<circle cx="641.7" cy="170.8" r="1.35"/>
<circle cx="637.5" cy="171.3" r="1.35"/>
<circle cx="657.8" cy="169.8" r="1.35"/>
<circle cx="664.9" cy="166.4" r="1.35"/>
<circle cx="646.3" cy="187.0" r="1.35"/>
<circle cx="673.6" cy="171.6" r="1.35"/>
<circle cx="640.7" cy="188.7" r="1.35"/>
<circle cx="657.2" cy="182.0" r="1.35"/>
<circle cx="657.4" cy="183.4" r="1.35"/>
<circle cx="638.0" cy="189.4" r="1.35"/>
<circle cx="637.7" cy="186.6" r="1.35"/>
<circle cx="672.2" cy="173.8" r="1.35"/>
<circle cx="671.3" cy="175.4" r="1.35"/>
<circle cx="655.0" cy="182.9" r="1.35"/>
<circle cx="658.5" cy="171.6" r="1.35"/>
<circle cx="641.9" cy="177.9" r="1.35"/>
<circle cx="673.4" cy="172.3" r="1.35"/>
<circle cx="668.4" cy="162.7" r="1.35"/>
<circle cx="650.5" cy="163.5" r="1.35"/>
<circle cx="667.9" cy="164.1" r="1.35"/>
<circle cx="652.8" cy="169.4" r="1.35"/>
<circle cx="660.5" cy="169.1" r="1.35"/>
<circle cx="639.0" cy="180.5" r="1.35"/>
<circle cx="667.9" cy="163.3" r="1.35"/>
<circle cx="664.3" cy="175.0" r="1.35"/>
<circle cx="662.9" cy="167.2" r="1.35"/>
<circle cx="675.3" cy="165.1" r="1.35"/>
<circle cx="664.6" cy="169.7" r="1.35"/>
<circle cx="673.5" cy="170.5" r="1.35"/>
<circle cx="668.4" cy="182.5" r="1.35"/>
<circle cx="654.4" cy="165.1" r="1.35"/>
<circle cx="637.9" cy="188.0" r="1.35"/>
<circle cx="652.1" cy="176.6" r="1.35"/>
<circle cx="652.2" cy="170.6" r="1.35"/>
<circle cx="674.2" cy="167.9" r="1.35"/>
<circle cx="652.4" cy="160.6" r="1.35"/>
<circle cx="658.8" cy="170.9" r="1.35"/>
<circle cx="664.9" cy="183.1" r="1.35"/>
<circle cx="652.5" cy="182.6" r="1.35"/>
<circle cx="658.9" cy="166.5" r="1.35"/>
<circle cx="653.6" cy="173.2" r="1.35"/>
<circle cx="661.5" cy="172.5" r="1.35"/>
<circle cx="676.2" cy="170.9" r="1.35"/>
<circle cx="648.6" cy="185.3" r="1.35"/>
<circle cx="650.9" cy="168.4" r="1.35"/>
<circle cx="668.9" cy="170.9" r="1.35"/>
<circle cx="646.4" cy="166.6" r="1.35"/>
<circle cx="634.9" cy="190.9" r="1.35"/>
<circle cx="661.9" cy="178.3" r="1.35"/>
<circle cx="671.3" cy="179.3" r="1.35"/>
<circle cx="646.4" cy="173.6" r="1.35"/>
<circle cx="658.6" cy="170.2" r="1.35"/>
<circle cx="651.3" cy="178.1" r="1.35"/>
<circle cx="666.8" cy="169.9" r="1.35"/>
<circle cx="656.7" cy="182.7" r="1.35"/>
<circle cx="661.4" cy="164.9" r="1.35"/>
<circle cx="630.7" cy="179.8" r="1.35"/>
<circle cx="667.7" cy="180.2" r="1.35"/>
<circle cx="633.0" cy="183.1" r="1.35"/>
<circle cx="663.2" cy="166.2" r="1.35"/>
<circle cx="662.8" cy="175.3" r="1.35"/>
<circle cx="628.7" cy="183.3" r="1.35"/>
<circle cx="656.2" cy="174.4" r="1.35"/>
<circle cx="667.1" cy="171.3" r="1.35"/>
<circle cx="666.4" cy="179.8" r="1.35"/>
<circle cx="667.6" cy="167.9" r="1.35"/>
<circle cx="657.7" cy="184.5" r="1.35"/>
<circle cx="653.6" cy="176.0" r="1.35"/>
<circle cx="666.6" cy="162.6" r="1.35"/>
<circle cx="660.8" cy="172.5" r="1.35"/>
<circle cx="642.6" cy="180.8" r="1.35"/>
<circle cx="628.6" cy="186.1" r="1.35"/>
<circle cx="651.4" cy="182.4" r="1.35"/>
<circle cx="670.7" cy="167.2" r="1.35"/>
<circle cx="641.3" cy="191.3" r="1.35"/>
<circle cx="652.1" cy="169.4" r="1.35"/>
<circle cx="660.7" cy="164.9" r="1.35"/>
<circle cx="663.6" cy="168.3" r="1.35"/>
<circle cx="667.5" cy="170.3" r="1.35"/>
<circle cx="668.8" cy="178.1" r="1.35"/>
<circle cx="672.7" cy="165.2" r="1.35"/>
<circle cx="637.1" cy="190.9" r="1.35"/>
<circle cx="662.8" cy="172.0" r="1.35"/>
<circle cx="653.2" cy="178.3" r="1.35"/>
<circle cx="633.0" cy="166.5" r="1.35"/>
<circle cx="632.7" cy="185.4" r="1.35"/>
<circle cx="633.0" cy="192.5" r="1.35"/>
<circle cx="653.5" cy="174.2" r="1.35"/>
<circle cx="650.9" cy="178.4" r="1.35"/>
<circle cx="658.0" cy="175.7" r="1.35"/>
<circle cx="642.5" cy="188.4" r="1.35"/>
<circle cx="670.7" cy="174.5" r="1.35"/>
<circle cx="649.6" cy="186.9" r="1.35"/>
<circle cx="649.8" cy="163.7" r="1.35"/>
<circle cx="669.3" cy="180.6" r="1.35"/>
<circle cx="665.8" cy="169.6" r="1.35"/>
<circle cx="656.5" cy="170.7" r="1.35"/>
<circle cx="649.5" cy="182.0" r="1.35"/>
<circle cx="674.5" cy="166.2" r="1.35"/>
<circle cx="666.8" cy="166.2" r="1.35"/>
<circle cx="668.5" cy="170.8" r="1.35"/>
<circle cx="644.7" cy="162.5" r="1.35"/>
<circle cx="646.0" cy="166.3" r="1.35"/>
<circle cx="654.6" cy="167.4" r="1.35"/>
<circle cx="660.2" cy="179.8" r="1.35"/>
<circle cx="645.7" cy="177.0" r="1.35"/>
<circle cx="662.3" cy="166.4" r="1.35"/>
<circle cx="668.7" cy="182.4" r="1.35"/>
<circle cx="659.2" cy="178.8" r="1.35"/>
<circle cx="645.2" cy="168.6" r="1.35"/>
<circle cx="650.6" cy="188.2" r="1.35"/>
<circle cx="642.2" cy="171.1" r="1.35"/>
<circle cx="640.3" cy="166.3" r="1.35"/>
<circle cx="649.5" cy="164.0" r="1.35"/>
<circle cx="674.7" cy="176.2" r="1.35"/>
<circle cx="637.3" cy="184.5" r="1.35"/>
<circle cx="660.4" cy="171.6" r="1.35"/>
<circle cx="654.0" cy="179.7" r="1.35"/>
<circle cx="633.5" cy="192.2" r="1.35"/>
<circle cx="656.5" cy="160.8" r="1.35"/>
<circle cx="667.2" cy="163.8" r="1.35"/>
<circle cx="670.8" cy="181.7" r="1.35"/>
<circle cx="628.3" cy="180.3" r="1.35"/>
<circle cx="665.9" cy="182.6" r="1.35"/>
<circle cx="650.2" cy="174.7" r="1.35"/>
<circle cx="676.4" cy="171.0" r="1.35"/>
<circle cx="672.1" cy="167.6" r="1.35"/>
<circle cx="657.3" cy="166.8" r="1.35"/>
<circle cx="641.6" cy="178.0" r="1.35"/>
<circle cx="655.2" cy="163.6" r="1.35"/>
<circle cx="666.1" cy="166.2" r="1.35"/>
<circle cx="659.2" cy="170.5" r="1.35"/>
<circle cx="658.7" cy="165.4" r="1.35"/>
<circle cx="659.5" cy="168.5" r="1.35"/>
<circle cx="644.2" cy="176.4" r="1.35"/>
<circle cx="671.3" cy="164.8" r="1.35"/>
<circle cx="639.5" cy="189.3" r="1.35"/>
<circle cx="652.7" cy="165.7" r="1.35"/>
<circle cx="635.2" cy="187.0" r="1.35"/>
<circle cx="663.8" cy="167.5" r="1.35"/>
<circle cx="648.0" cy="179.4" r="1.35"/>
<circle cx="663.2" cy="172.8" r="1.35"/>
<circle cx="675.7" cy="172.3" r="1.35"/>
<circle cx="657.9" cy="171.8" r="1.35"/>
<circle cx="654.9" cy="169.3" r="1.35"/>
<circle cx="667.4" cy="177.9" r="1.35"/>
<circle cx="646.9" cy="180.3" r="1.35"/>
<circle cx="653.4" cy="156.3" r="1.35"/>
<circle cx="655.2" cy="177.5" r="1.35"/>
<circle cx="670.0" cy="166.8" r="1.35"/>
<circle cx="656.6" cy="171.4" r="1.35"/>
<circle cx="659.3" cy="158.1" r="1.35"/>
<circle cx="642.4" cy="164.9" r="1.35"/>
<circle cx="656.5" cy="169.4" r="1.35"/>
<circle cx="672.7" cy="169.6" r="1.35"/>
<circle cx="663.7" cy="174.1" r="1.35"/>
<circle cx="636.8" cy="189.1" r="1.35"/>
<circle cx="645.3" cy="171.7" r="1.35"/>
<circle cx="633.7" cy="176.8" r="1.35"/>
<circle cx="646.0" cy="164.3" r="1.35"/>
<circle cx="661.8" cy="165.6" r="1.35"/>
<circle cx="653.4" cy="168.3" r="1.35"/>
<circle cx="658.3" cy="185.1" r="1.35"/>
<circle cx="667.7" cy="175.4" r="1.35"/>
<circle cx="674.1" cy="173.3" r="1.35"/>
<circle cx="640.0" cy="186.8" r="1.35"/>
<circle cx="670.7" cy="168.6" r="1.35"/>
<circle cx="666.6" cy="166.6" r="1.35"/>
<circle cx="628.2" cy="176.5" r="1.35"/>
<circle cx="667.8" cy="173.6" r="1.35"/>
<circle cx="658.3" cy="168.3" r="1.35"/>
<circle cx="658.6" cy="174.7" r="1.35"/>
<circle cx="635.1" cy="180.7" r="1.35"/>
<circle cx="665.4" cy="168.2" r="1.35"/>
<circle cx="634.9" cy="177.7" r="1.35"/>
<circle cx="664.2" cy="163.2" r="1.35"/>
<circle cx="637.2" cy="169.0" r="1.35"/>
<circle cx="647.3" cy="172.2" r="1.35"/>
<circle cx="655.4" cy="184.2" r="1.35"/>
<circle cx="674.1" cy="167.2" r="1.35"/>
<circle cx="656.3" cy="173.0" r="1.35"/>
<circle cx="668.4" cy="167.5" r="1.35"/>
<circle cx="629.4" cy="177.2" r="1.35"/>
<circle cx="647.6" cy="177.5" r="1.35"/>
<circle cx="675.1" cy="169.8" r="1.35"/>
<circle cx="662.7" cy="175.1" r="1.35"/>
<circle cx="676.6" cy="168.8" r="1.35"/>
<circle cx="655.6" cy="177.3" r="1.35"/>
<circle cx="676.0" cy="174.3" r="1.35"/>
<circle cx="647.6" cy="184.3" r="1.35"/>
<circle cx="659.8" cy="185.1" r="1.35"/>
<circle cx="673.0" cy="167.0" r="1.35"/>
<circle cx="646.0" cy="168.7" r="1.35"/>
<circle cx="661.9" cy="181.1" r="1.35"/>
<circle cx="671.0" cy="163.6" r="1.35"/>
<circle cx="662.6" cy="166.6" r="1.35"/>
<circle cx="664.9" cy="167.5" r="1.35"/>
<circle cx="659.8" cy="178.6" r="1.35"/>
<circle cx="664.9" cy="166.4" r="1.35"/>
<circle cx="662.1" cy="168.8" r="1.35"/>
<circle cx="628.7" cy="171.2" r="1.35"/>
<circle cx="641.4" cy="188.3" r="1.35"/>
<circle cx="663.7" cy="160.0" r="1.35"/>
<circle cx="656.8" cy="183.8" r="1.35"/>
<circle cx="660.0" cy="179.9" r="1.35"/>
<circle cx="640.3" cy="171.4" r="1.35"/>
<circle cx="665.5" cy="165.4" r="1.35"/>
<circle cx="669.0" cy="165.9" r="1.35"/>
<circle cx="633.7" cy="175.3" r="1.35"/>
<circle cx="673.3" cy="175.4" r="1.35"/>
<circle cx="664.3" cy="178.6" r="1.35"/>
<circle cx="639.1" cy="181.1" r="1.35"/>
<circle cx="650.4" cy="165.5" r="1.35"/>
<circle cx="647.9" cy="170.4" r="1.35"/>
<circle cx="646.3" cy="162.8" r="1.35"/>
<circle cx="662.9" cy="161.8" r="1.35"/>
<circle cx="653.6" cy="180.4" r="1.35"/>
<circle cx="660.0" cy="177.5" r="1.35"/>
<circle cx="651.1" cy="184.2" r="1.35"/>
<circle cx="639.4" cy="174.1" r="1.35"/>
<circle cx="638.5" cy="167.2" r="1.35"/>
<circle cx="662.5" cy="174.4" r="1.35"/>
<circle cx="663.6" cy="167.4" r="1.35"/>
<circle cx="641.0" cy="185.9" r="1.35"/>
<circle cx="648.5" cy="176.1" r="1.35"/>
<circle cx="663.7" cy="170.4" r="1.35"/>
<circle cx="639.2" cy="189.5" r="1.35"/>
<circle cx="648.8" cy="178.4" r="1.35"/>
<circle cx="661.9" cy="181.8" r="1.35"/>
<circle cx="643.2" cy="183.8" r="1.35"/>
<circle cx="650.3" cy="182.7" r="1.35"/>
<circle cx="650.8" cy="182.0" r="1.35"/>
<circle cx="630.5" cy="168.1" r="1.35"/>
<circle cx="634.0" cy="166.2" r="1.35"/>
<circle cx="634.4" cy="164.1" r="1.35"/>
<circle cx="667.9" cy="170.2" r="1.35"/>
<circle cx="669.9" cy="169.5" r="1.35"/>
<circle cx="667.8" cy="166.6" r="1.35"/>
<circle cx="670.6" cy="165.0" r="1.35"/>
<circle cx="664.3" cy="164.3" r="1.35"/>
<circle cx="670.8" cy="180.1" r="1.35"/>
<circle cx="668.6" cy="177.8" r="1.35"/>
<circle cx="657.0" cy="174.2" r="1.35"/>
<circle cx="648.8" cy="181.3" r="1.35"/>
<circle cx="648.6" cy="177.6" r="1.35"/>
<circle cx="639.6" cy="166.7" r="1.35"/>
<circle cx="676.9" cy="170.1" r="1.35"/>
<circle cx="658.3" cy="168.7" r="1.35"/>
<circle cx="651.1" cy="164.3" r="1.35"/>
<circle cx="675.4" cy="172.9" r="1.35"/>
<circle cx="645.2" cy="185.0" r="1.35"/>
<circle cx="654.9" cy="172.9" r="1.35"/>
<circle cx="659.3" cy="176.0" r="1.35"/>
<circle cx="664.9" cy="181.1" r="1.35"/>
<circle cx="662.7" cy="182.5" r="1.35"/>
<circle cx="661.7" cy="169.4" r="1.35"/>
<circle cx="640.6" cy="186.7" r="1.35"/>
<circle cx="676.9" cy="173.9" r="1.35"/>
<circle cx="665.2" cy="175.2" r="1.35"/>
<circle cx="674.6" cy="175.9" r="1.35"/>
<circle cx="646.4" cy="166.5" r="1.35"/>
<circle cx="663.7" cy="170.4" r="1.35"/>
<circle cx="672.7" cy="165.3" r="1.35"/>
<circle cx="661.5" cy="179.3" r="1.35"/>
<circle cx="675.4" cy="172.2" r="1.35"/>
<circle cx="633.4" cy="187.3" r="1.35"/>
<circle cx="672.1" cy="166.7" r="1.35"/>
<circle cx="635.3" cy="180.7" r="1.35"/>
<circle cx="648.7" cy="165.9" r="1.35"/>
<circle cx="668.4" cy="166.1" r="1.35"/>
<circle cx="647.0" cy="170.1" r="1.35"/>
<circle cx="649.0" cy="163.0" r="1.35"/>
<circle cx="676.7" cy="170.1" r="1.35"/>
<circle cx="662.2" cy="180.3" r="1.35"/>
<circle cx="663.4" cy="170.6" r="1.35"/>
<circle cx="662.9" cy="167.6" r="1.35"/>
<circle cx="646.6" cy="184.2" r="1.35"/>
<circle cx="670.4" cy="180.7" r="1.35"/>
<circle cx="653.4" cy="176.3" r="1.35"/>
<circle cx="653.0" cy="180.7" r="1.35"/>
<circle cx="668.1" cy="176.3" r="1.35"/>
<circle cx="659.1" cy="185.1" r="1.35"/>
<circle cx="664.1" cy="176.5" r="1.35"/>
<circle cx="670.5" cy="174.4" r="1.35"/>
<circle cx="657.2" cy="166.7" r="1.35"/>
<circle cx="665.3" cy="170.0" r="1.35"/>
<circle cx="672.6" cy="165.8" r="1.35"/>
<circle cx="659.6" cy="181.3" r="1.35"/>
<circle cx="672.2" cy="160.9" r="1.35"/>
<circle cx="670.0" cy="166.2" r="1.35"/>
<circle cx="666.0" cy="176.1" r="1.35"/>
<circle cx="670.2" cy="164.8" r="1.35"/>
<circle cx="652.4" cy="175.8" r="1.35"/>
<circle cx="663.7" cy="167.2" r="1.35"/>
<circle cx="672.0" cy="170.2" r="1.35"/>
<circle cx="655.1" cy="181.7" r="1.35"/>
<circle cx="662.3" cy="175.5" r="1.35"/>
<circle cx="662.1" cy="172.6" r="1.35"/>
<circle cx="674.7" cy="171.5" r="1.35"/>
<circle cx="660.2" cy="173.1" r="1.35"/>
<circle cx="673.0" cy="175.8" r="1.35"/>
<circle cx="655.1" cy="181.3" r="1.35"/>
<circle cx="632.9" cy="173.3" r="1.35"/>
<circle cx="638.8" cy="192.4" r="1.35"/>
<circle cx="628.8" cy="195.1" r="1.35"/>
<circle cx="665.6" cy="179.9" r="1.35"/>
<circle cx="666.3" cy="168.9" r="1.35"/>
<circle cx="646.2" cy="189.1" r="1.35"/>
<circle cx="668.7" cy="176.0" r="1.35"/>
<circle cx="671.7" cy="173.1" r="1.35"/>
<circle cx="663.5" cy="171.5" r="1.35"/>
<circle cx="665.0" cy="167.7" r="1.35"/>
<circle cx="649.6" cy="188.0" r="1.35"/>
<circle cx="639.7" cy="179.6" r="1.35"/>
<circle cx="633.4" cy="168.7" r="1.35"/>
<circle cx="640.3" cy="166.1" r="1.35"/>
<circle cx="664.4" cy="160.1" r="1.35"/>
<circle cx="659.8" cy="184.9" r="1.35"/>
<circle cx="675.0" cy="172.4" r="1.35"/>
<circle cx="647.7" cy="179.9" r="1.35"/>
<circle cx="666.6" cy="176.0" r="1.35"/>
<circle cx="638.4" cy="170.1" r="1.35"/>
<circle cx="663.1" cy="165.4" r="1.35"/>
<circle cx="669.6" cy="168.7" r="1.35"/>
<circle cx="628.6" cy="174.3" r="1.35"/>
<circle cx="639.2" cy="166.6" r="1.35"/>
<circle cx="662.8" cy="180.4" r="1.35"/>
<circle cx="667.8" cy="162.5" r="1.35"/>
<circle cx="649.8" cy="175.4" r="1.35"/>
<circle cx="659.0" cy="163.3" r="1.35"/>
<circle cx="646.4" cy="176.7" r="1.35"/>
<circle cx="671.9" cy="166.4" r="1.35"/>
<circle cx="628.7" cy="169.5" r="1.35"/>
<circle cx="667.2" cy="166.0" r="1.35"/>
<circle cx="662.5" cy="178.2" r="1.35"/>
<circle cx="674.6" cy="166.4" r="1.35"/>
<circle cx="641.3" cy="176.7" r="1.35"/>
<circle cx="631.1" cy="169.8" r="1.35"/>
<circle cx="642.9" cy="185.4" r="1.35"/>
<circle cx="665.6" cy="168.9" r="1.35"/>
<circle cx="665.8" cy="175.6" r="1.35"/>
<circle cx="633.2" cy="170.7" r="1.35"/>
<circle cx="642.4" cy="167.9" r="1.35"/>
<circle cx="650.0" cy="179.8" r="1.35"/>
<circle cx="673.4" cy="176.1" r="1.35"/>
<circle cx="668.6" cy="165.0" r="1.35"/>
<circle cx="656.6" cy="174.8" r="1.35"/>
<circle cx="657.0" cy="178.8" r="1.35"/>
<circle cx="655.6" cy="164.7" r="1.35"/>
<circle cx="666.2" cy="174.5" r="1.35"/>
<circle cx="660.1" cy="165.4" r="1.35"/>
<circle cx="649.8" cy="165.8" r="1.35"/>
<circle cx="668.0" cy="175.0" r="1.35"/>
<circle cx="667.5" cy="181.0" r="1.35"/>
<circle cx="654.1" cy="182.8" r="1.35"/>
<circle cx="663.4" cy="170.7" r="1.35"/>
<circle cx="649.7" cy="186.8" r="1.35"/>
<circle cx="654.2" cy="181.1" r="1.35"/>
<circle cx="633.7" cy="187.6" r="1.35"/>
<circle cx="674.0" cy="167.9" r="1.35"/>
<circle cx="668.9" cy="170.7" r="1.35"/>
<circle cx="665.5" cy="175.7" r="1.35"/>
<circle cx="657.4" cy="160.2" r="1.35"/>
<circle cx="661.5" cy="173.2" r="1.35"/>
<circle cx="673.7" cy="172.1" r="1.35"/>
<circle cx="667.8" cy="168.6" r="1.35"/>
<circle cx="649.5" cy="181.0" r="1.35"/>
<circle cx="629.4" cy="194.8" r="1.35"/>
<circle cx="660.6" cy="180.5" r="1.35"/>
<circle cx="635.1" cy="177.5" r="1.35"/>
<circle cx="670.9" cy="173.6" r="1.35"/>
<circle cx="653.1" cy="177.5" r="1.35"/>
<circle cx="628.8" cy="169.8" r="1.35"/>
<circle cx="648.9" cy="171.6" r="1.35"/>
<circle cx="657.0" cy="171.4" r="1.35"/>
<circle cx="667.0" cy="175.7" r="1.35"/>
<circle cx="658.5" cy="182.8" r="1.35"/>
<circle cx="672.3" cy="173.9" r="1.35"/>
<circle cx="635.0" cy="181.3" r="1.35"/>
<circle cx="635.6" cy="183.7" r="1.35"/>
<circle cx="666.6" cy="180.0" r="1.35"/>
<circle cx="667.8" cy="170.3" r="1.35"/>
<circle cx="667.2" cy="168.8" r="1.35"/>
<circle cx="655.3" cy="159.8" r="1.35"/>
<circle cx="635.5" cy="178.3" r="1.35"/>
<circle cx="663.9" cy="176.4" r="1.35"/>
<circle cx="663.0" cy="176.6" r="1.35"/>
<circle cx="643.8" cy="167.0" r="1.35"/>
<circle cx="674.4" cy="167.1" r="1.35"/>
<circle cx="671.0" cy="166.8" r="1.35"/>
<circle cx="660.0" cy="160.0" r="1.35"/>
<circle cx="662.1" cy="170.6" r="1.35"/>
<circle cx="640.8" cy="185.2" r="1.35"/>
<circle cx="630.9" cy="172.1" r="1.35"/>
<circle cx="637.7" cy="190.1" r="1.35"/>
<circle cx="614.9" cy="171.7" r="1.35"/>
<circle cx="623.4" cy="190.1" r="1.35"/>
<circle cx="627.7" cy="177.8" r="1.35"/>
<circle cx="632.3" cy="172.3" r="1.35"/>
<circle cx="632.5" cy="185.6" r="1.35"/>
<circle cx="611.5" cy="176.0" r="1.35"/>
<circle cx="623.9" cy="176.9" r="1.35"/>
<circle cx="625.0" cy="188.8" r="1.35"/>
<circle cx="620.9" cy="190.9" r="1.35"/>
<circle cx="610.8" cy="166.3" r="1.35"/>
<circle cx="620.6" cy="182.6" r="1.35"/>
<circle cx="594.4" cy="180.4" r="1.35"/>
<circle cx="607.8" cy="180.5" r="1.35"/>
<circle cx="614.0" cy="180.9" r="1.35"/>
<circle cx="633.6" cy="166.8" r="1.35"/>
<circle cx="610.2" cy="187.2" r="1.35"/>
<circle cx="625.7" cy="179.1" r="1.35"/>
<circle cx="618.3" cy="184.7" r="1.35"/>
<circle cx="613.2" cy="176.4" r="1.35"/>
<circle cx="625.4" cy="183.7" r="1.35"/>
<circle cx="603.9" cy="172.4" r="1.35"/>
<circle cx="628.3" cy="183.5" r="1.35"/>
<circle cx="620.9" cy="180.8" r="1.35"/>
<circle cx="639.1" cy="179.2" r="1.35"/>
<circle cx="622.0" cy="183.6" r="1.35"/>
<circle cx="609.6" cy="165.0" r="1.35"/>
<circle cx="616.8" cy="183.1" r="1.35"/>
<circle cx="630.9" cy="181.4" r="1.35"/>
<circle cx="626.5" cy="182.1" r="1.35"/>
<circle cx="621.3" cy="180.6" r="1.35"/>
<circle cx="629.7" cy="178.0" r="1.35"/>
<circle cx="627.7" cy="176.5" r="1.35"/>
<circle cx="626.1" cy="181.6" r="1.35"/>
<circle cx="630.0" cy="171.4" r="1.35"/>
<circle cx="628.1" cy="180.8" r="1.35"/>
<circle cx="626.0" cy="174.5" r="1.35"/>
<circle cx="621.7" cy="179.9" r="1.35"/>
<circle cx="624.5" cy="163.6" r="1.35"/>
<circle cx="617.0" cy="178.2" r="1.35"/>
<circle cx="629.5" cy="190.1" r="1.35"/>
<circle cx="613.7" cy="165.2" r="1.35"/>
<circle cx="635.9" cy="171.3" r="1.35"/>
<circle cx="633.1" cy="184.8" r="1.35"/>
<circle cx="611.7" cy="162.8" r="1.35"/>
<circle cx="603.1" cy="190.6" r="1.35"/>
<circle cx="616.1" cy="163.9" r="1.35"/>
<circle cx="626.6" cy="180.7" r="1.35"/>
<circle cx="635.5" cy="181.0" r="1.35"/>
<circle cx="603.6" cy="172.6" r="1.35"/>
<circle cx="600.3" cy="170.5" r="1.35"/>
<circle cx="623.6" cy="178.9" r="1.35"/>
<circle cx="626.7" cy="183.3" r="1.35"/>
<circle cx="620.0" cy="191.3" r="1.35"/>
<circle cx="637.1" cy="175.1" r="1.35"/>
<circle cx="624.1" cy="186.4" r="1.35"/>
<circle cx="614.4" cy="175.9" r="1.35"/>
<circle cx="613.8" cy="174.9" r="1.35"/>
<circle cx="616.7" cy="182.9" r="1.35"/>
<circle cx="600.3" cy="166.1" r="1.35"/>
<circle cx="615.8" cy="165.6" r="1.35"/>
<circle cx="606.4" cy="165.0" r="1.35"/>
<circle cx="630.5" cy="172.9" r="1.35"/>
<circle cx="620.3" cy="183.1" r="1.35"/>
<circle cx="620.9" cy="194.2" r="1.35"/>
<circle cx="635.0" cy="180.1" r="1.35"/>
<circle cx="629.4" cy="178.4" r="1.35"/>
<circle cx="600.2" cy="168.1" r="1.35"/>
<circle cx="631.9" cy="175.4" r="1.35"/>
<circle cx="616.4" cy="166.9" r="1.35"/>
<circle cx="614.5" cy="183.9" r="1.35"/>
<circle cx="598.1" cy="167.1" r="1.35"/>
<circle cx="617.4" cy="174.9" r="1.35"/>
<circle cx="638.4" cy="184.3" r="1.35"/>
<circle cx="634.4" cy="181.2" r="1.35"/>
<circle cx="620.2" cy="176.6" r="1.35"/>
<circle cx="606.6" cy="171.6" r="1.35"/>
<circle cx="630.8" cy="166.5" r="1.35"/>
<circle cx="630.8" cy="180.9" r="1.35"/>
<circle cx="605.3" cy="174.2" r="1.35"/>
<circle cx="632.3" cy="184.7" r="1.35"/>
<circle cx="613.1" cy="167.5" r="1.35"/>
<circle cx="632.7" cy="185.3" r="1.35"/>
<circle cx="593.9" cy="175.0" r="1.35"/>
<circle cx="638.8" cy="171.0" r="1.35"/>
<circle cx="631.1" cy="186.6" r="1.35"/>
<circle cx="625.2" cy="191.5" r="1.35"/>
<circle cx="635.4" cy="180.1" r="1.35"/>
<circle cx="637.3" cy="192.6" r="1.35"/>
<circle cx="612.7" cy="181.5" r="1.35"/>
<circle cx="616.8" cy="164.2" r="1.35"/>
<circle cx="602.7" cy="191.5" r="1.35"/>
<circle cx="620.7" cy="195.4" r="1.35"/>
<circle cx="622.7" cy="196.6" r="1.35"/>
<circle cx="628.5" cy="166.7" r="1.35"/>
<circle cx="617.3" cy="174.9" r="1.35"/>
<circle cx="620.0" cy="176.8" r="1.35"/>
<circle cx="633.8" cy="169.1" r="1.35"/>
<circle cx="616.2" cy="183.3" r="1.35"/>
<circle cx="625.0" cy="168.5" r="1.35"/>
<circle cx="619.8" cy="174.4" r="1.35"/>
<circle cx="605.6" cy="172.2" r="1.35"/>
<circle cx="616.3" cy="177.9" r="1.35"/>
<circle cx="628.9" cy="181.2" r="1.35"/>
<circle cx="629.3" cy="175.8" r="1.35"/>
<circle cx="629.0" cy="176.2" r="1.35"/>
<circle cx="631.8" cy="176.3" r="1.35"/>
<circle cx="624.8" cy="174.8" r="1.35"/>
<circle cx="619.4" cy="176.5" r="1.35"/>
<circle cx="633.0" cy="184.8" r="1.35"/>
<circle cx="626.7" cy="183.1" r="1.35"/>
<circle cx="614.4" cy="173.9" r="1.35"/>
<circle cx="623.1" cy="183.9" r="1.35"/>
<circle cx="624.0" cy="180.6" r="1.35"/>
<circle cx="622.3" cy="186.1" r="1.35"/>
<circle cx="626.8" cy="173.7" r="1.35"/>
<circle cx="625.3" cy="180.2" r="1.35"/>
<circle cx="593.1" cy="163.2" r="1.35"/>
<circle cx="638.6" cy="183.1" r="1.35"/>
<circle cx="606.6" cy="169.9" r="1.35"/>
<circle cx="612.6" cy="173.1" r="1.35"/>
<circle cx="598.2" cy="168.2" r="1.35"/>
<circle cx="622.6" cy="183.7" r="1.35"/>
<circle cx="618.9" cy="177.1" r="1.35"/>
<circle cx="611.7" cy="180.9" r="1.35"/>
<circle cx="613.5" cy="175.6" r="1.35"/>
<circle cx="616.8" cy="170.3" r="1.35"/>
<circle cx="616.8" cy="180.0" r="1.35"/>
<circle cx="598.0" cy="177.9" r="1.35"/>
<circle cx="622.6" cy="167.4" r="1.35"/>
<circle cx="594.3" cy="172.2" r="1.35"/>
<circle cx="621.5" cy="193.6" r="1.35"/>
<circle cx="611.8" cy="181.8" r="1.35"/>
<circle cx="607.2" cy="159.6" r="1.35"/>
<circle cx="622.9" cy="174.5" r="1.35"/>
<circle cx="616.6" cy="174.9" r="1.35"/>
<circle cx="626.3" cy="174.0" r="1.35"/>
<circle cx="626.3" cy="169.5" r="1.35"/>
<circle cx="618.8" cy="178.1" r="1.35"/>
<circle cx="632.1" cy="180.9" r="1.35"/>
<circle cx="633.0" cy="183.0" r="1.35"/>
<circle cx="630.2" cy="178.2" r="1.35"/>
<circle cx="610.1" cy="171.8" r="1.35"/>
<circle cx="632.8" cy="184.7" r="1.35"/>
<circle cx="631.6" cy="183.9" r="1.35"/>
<circle cx="635.8" cy="174.9" r="1.35"/>
<circle cx="614.2" cy="165.7" r="1.35"/>
<circle cx="613.1" cy="170.4" r="1.35"/>
<circle cx="624.6" cy="191.2" r="1.35"/>
<circle cx="618.1" cy="195.0" r="1.35"/>
<circle cx="616.5" cy="198.7" r="1.35"/>
<circle cx="633.0" cy="188.5" r="1.35"/>
<circle cx="629.3" cy="191.3" r="1.35"/>
<circle cx="618.9" cy="193.6" r="1.35"/>
<circle cx="629.6" cy="193.8" r="1.35"/>
<circle cx="616.8" cy="197.0" r="1.35"/>
<circle cx="614.5" cy="195.5" r="1.35"/>
<circle cx="633.7" cy="187.2" r="1.35"/>
<circle cx="614.9" cy="199.2" r="1.35"/>
<circle cx="629.5" cy="190.1" r="1.35"/>
<circle cx="612.9" cy="196.7" r="1.35"/>
<circle cx="631.8" cy="191.6" r="1.35"/>
<circle cx="614.7" cy="199.9" r="1.35"/>
<circle cx="631.4" cy="191.7" r="1.35"/>
<circle cx="629.5" cy="190.1" r="1.35"/>
<circle cx="625.1" cy="188.7" r="1.35"/>
<circle cx="626.0" cy="189.1" r="1.35"/>
<circle cx="644.6" cy="188.3" r="1.35"/>
<circle cx="637.4" cy="186.5" r="1.35"/>
<circle cx="633.1" cy="192.6" r="1.35"/>
<circle cx="643.7" cy="183.9" r="1.35"/>
<circle cx="619.1" cy="197.6" r="1.35"/>
<circle cx="630.8" cy="192.2" r="1.35"/>
<circle cx="637.8" cy="191.4" r="1.35"/>
<circle cx="619.3" cy="197.6" r="1.35"/>
<circle cx="626.1" cy="192.0" r="1.35"/>
<circle cx="635.3" cy="191.4" r="1.35"/>
<circle cx="645.0" cy="178.1" r="1.35"/>
<circle cx="638.4" cy="191.8" r="1.35"/>
<circle cx="628.4" cy="189.8" r="1.35"/>
<circle cx="643.0" cy="187.2" r="1.35"/>
<circle cx="612.9" cy="199.7" r="1.35"/>
<circle cx="627.5" cy="192.6" r="1.35"/>
<circle cx="615.5" cy="199.4" r="1.35"/>
<circle cx="628.0" cy="193.6" r="1.35"/>
<circle cx="626.7" cy="195.2" r="1.35"/>
<circle cx="623.5" cy="192.4" r="1.35"/>
<circle cx="624.8" cy="196.9" r="1.35"/>
<circle cx="616.4" cy="194.7" r="1.35"/>
<circle cx="644.0" cy="189.8" r="1.35"/>
<circle cx="621.3" cy="196.0" r="1.35"/>
<circle cx="636.5" cy="190.1" r="1.35"/>
<circle cx="628.3" cy="195.6" r="1.35"/>
<circle cx="527.3" cy="144.2" r="1.35"/>
<circle cx="535.7" cy="141.6" r="1.35"/>
<circle cx="551.4" cy="156.3" r="1.35"/>
<circle cx="607.8" cy="162.5" r="1.35"/>
<circle cx="607.3" cy="175.1" r="1.35"/>
<circle cx="569.6" cy="144.7" r="1.35"/>
<circle cx="547.4" cy="141.7" r="1.35"/>
<circle cx="510.8" cy="150.9" r="1.35"/>
<circle cx="565.1" cy="152.4" r="1.35"/>
<circle cx="517.3" cy="142.8" r="1.35"/>
<circle cx="569.7" cy="149.1" r="1.35"/>
<circle cx="543.1" cy="154.8" r="1.35"/>
<circle cx="542.4" cy="144.8" r="1.35"/>
<circle cx="594.8" cy="166.9" r="1.35"/>
<circle cx="558.6" cy="158.7" r="1.35"/>
<circle cx="612.2" cy="177.5" r="1.35"/>
<circle cx="583.1" cy="164.7" r="1.35"/>
<circle cx="518.8" cy="132.0" r="1.35"/>
<circle cx="575.4" cy="165.1" r="1.35"/>
<circle cx="582.9" cy="172.8" r="1.35"/>
<circle cx="549.2" cy="160.7" r="1.35"/>
<circle cx="585.1" cy="146.4" r="1.35"/>
<circle cx="558.0" cy="155.5" r="1.35"/>
<circle cx="540.7" cy="153.1" r="1.35"/>
<circle cx="514.0" cy="149.6" r="1.35"/>
<circle cx="531.1" cy="152.6" r="1.35"/>
<circle cx="590.7" cy="157.3" r="1.35"/>
<circle cx="529.5" cy="137.0" r="1.35"/>
<circle cx="523.9" cy="145.3" r="1.35"/>
<circle cx="541.3" cy="158.7" r="1.35"/>
<circle cx="560.1" cy="147.6" r="1.35"/>
<circle cx="567.1" cy="167.5" r="1.35"/>
<circle cx="566.0" cy="140.9" r="1.35"/>
<circle cx="514.1" cy="145.6" r="1.35"/>
<circle cx="539.1" cy="144.3" r="1.35"/>
<circle cx="527.8" cy="135.1" r="1.35"/>
<circle cx="556.8" cy="151.5" r="1.35"/>
<circle cx="557.5" cy="160.0" r="1.35"/>
<circle cx="562.0" cy="163.1" r="1.35"/>
<circle cx="545.3" cy="158.0" r="1.35"/>
<circle cx="599.2" cy="152.4" r="1.35"/>
<circle cx="613.6" cy="181.1" r="1.35"/>
<circle cx="556.1" cy="155.2" r="1.35"/>
<circle cx="540.6" cy="147.3" r="1.35"/>
<circle cx="559.9" cy="168.6" r="1.35"/>
<circle cx="556.1" cy="148.9" r="1.35"/>
<circle cx="523.4" cy="135.4" r="1.35"/>
<circle cx="582.1" cy="163.3" r="1.35"/>
<circle cx="533.6" cy="142.2" r="1.35"/>
<circle cx="503.2" cy="162.2" r="1.35"/>
<circle cx="567.2" cy="165.9" r="1.35"/>
<circle cx="554.2" cy="158.6" r="1.35"/>
<circle cx="599.7" cy="170.6" r="1.35"/>
<circle cx="537.9" cy="162.4" r="1.35"/>
<circle cx="513.5" cy="145.0" r="1.35"/>
<circle cx="551.6" cy="152.3" r="1.35"/>
<circle cx="609.5" cy="165.1" r="1.35"/>
<circle cx="510.4" cy="151.3" r="1.35"/>
<circle cx="560.5" cy="150.1" r="1.35"/>
<circle cx="565.0" cy="154.0" r="1.35"/>
<circle cx="555.8" cy="145.4" r="1.35"/>
<circle cx="573.5" cy="170.2" r="1.35"/>
<circle cx="525.6" cy="146.5" r="1.35"/>
<circle cx="541.3" cy="149.6" r="1.35"/>
<circle cx="569.2" cy="175.6" r="1.35"/>
<circle cx="590.9" cy="160.4" r="1.35"/>
<circle cx="526.2" cy="148.0" r="1.35"/>
<circle cx="557.7" cy="140.3" r="1.35"/>
<circle cx="618.9" cy="173.9" r="1.35"/>
<circle cx="536.7" cy="144.8" r="1.35"/>
<circle cx="526.9" cy="136.7" r="1.35"/>
<circle cx="590.1" cy="157.3" r="1.35"/>
<circle cx="502.5" cy="160.9" r="1.35"/>
<circle cx="541.2" cy="149.3" r="1.35"/>
<circle cx="541.3" cy="150.5" r="1.35"/>
<circle cx="582.8" cy="158.4" r="1.35"/>
<circle cx="595.2" cy="156.6" r="1.35"/>
<circle cx="500.2" cy="136.6" r="1.35"/>
<circle cx="566.9" cy="145.7" r="1.35"/>
<circle cx="560.6" cy="145.0" r="1.35"/>
<circle cx="524.7" cy="146.3" r="1.35"/>
<circle cx="519.5" cy="154.2" r="1.35"/>
<circle cx="523.7" cy="144.1" r="1.35"/>
<circle cx="562.6" cy="167.5" r="1.35"/>
<circle cx="549.2" cy="159.8" r="1.35"/>
<circle cx="538.9" cy="145.3" r="1.35"/>
<circle cx="563.9" cy="158.9" r="1.35"/>
<circle cx="555.0" cy="146.1" r="1.35"/>
<circle cx="564.8" cy="165.4" r="1.35"/>
<circle cx="533.0" cy="145.3" r="1.35"/>
<circle cx="565.1" cy="151.2" r="1.35"/>
<circle cx="575.4" cy="166.0" r="1.35"/>
<circle cx="506.4" cy="134.8" r="1.35"/>
<circle cx="566.3" cy="155.0" r="1.35"/>
<circle cx="585.8" cy="151.9" r="1.35"/>
<circle cx="543.5" cy="150.8" r="1.35"/>
<circle cx="540.6" cy="138.7" r="1.35"/>
<circle cx="537.4" cy="146.5" r="1.35"/>
<circle cx="580.1" cy="153.1" r="1.35"/>
<circle cx="540.4" cy="147.8" r="1.35"/>
<circle cx="587.6" cy="177.4" r="1.35"/>
<circle cx="539.8" cy="137.5" r="1.35"/>
<circle cx="518.1" cy="142.0" r="1.35"/>
<circle cx="589.9" cy="162.7" r="1.35"/>
<circle cx="572.5" cy="153.2" r="1.35"/>
<circle cx="572.8" cy="164.4" r="1.35"/>
<circle cx="530.6" cy="136.9" r="1.35"/>
<circle cx="572.7" cy="167.3" r="1.35"/>
<circle cx="565.4" cy="159.1" r="1.35"/>
<circle cx="540.6" cy="151.1" r="1.35"/>
<circle cx="509.7" cy="135.6" r="1.35"/>
<circle cx="599.5" cy="160.4" r="1.35"/>
<circle cx="563.2" cy="161.6" r="1.35"/>
<circle cx="560.7" cy="149.3" r="1.35"/>
<circle cx="542.9" cy="131.3" r="1.35"/>
<circle cx="558.7" cy="156.8" r="1.35"/>
<circle cx="497.4" cy="137.2" r="1.35"/>
<circle cx="568.2" cy="159.8" r="1.35"/>
<circle cx="560.1" cy="136.3" r="1.35"/>
<circle cx="579.9" cy="162.6" r="1.35"/>
<circle cx="520.8" cy="155.1" r="1.35"/>
<circle cx="566.2" cy="157.5" r="1.35"/>
<circle cx="570.4" cy="154.6" r="1.35"/>
<circle cx="556.2" cy="152.1" r="1.35"/>
<circle cx="587.4" cy="161.1" r="1.35"/>
<circle cx="526.2" cy="143.3" r="1.35"/>
<circle cx="596.4" cy="162.3" r="1.35"/>
<circle cx="574.8" cy="156.9" r="1.35"/>
<circle cx="599.6" cy="175.1" r="1.35"/>
<circle cx="584.3" cy="153.6" r="1.35"/>
<circle cx="547.9" cy="152.9" r="1.35"/>
<circle cx="528.7" cy="153.0" r="1.35"/>
<circle cx="501.1" cy="131.9" r="1.35"/>
<circle cx="567.7" cy="149.2" r="1.35"/>
<circle cx="592.4" cy="172.7" r="1.35"/>
<circle cx="533.1" cy="152.2" r="1.35"/>
<circle cx="547.2" cy="154.5" r="1.35"/>
<circle cx="513.2" cy="149.1" r="1.35"/>
<circle cx="570.7" cy="146.9" r="1.35"/>
<circle cx="580.4" cy="147.3" r="1.35"/>
<circle cx="518.8" cy="149.7" r="1.35"/>
<circle cx="601.6" cy="162.0" r="1.35"/>
<circle cx="559.0" cy="163.2" r="1.35"/>
<circle cx="532.1" cy="151.6" r="1.35"/>
<circle cx="613.3" cy="158.5" r="1.35"/>
<circle cx="559.0" cy="149.0" r="1.35"/>
<circle cx="546.7" cy="143.3" r="1.35"/>
<circle cx="556.8" cy="142.2" r="1.35"/>
<circle cx="542.4" cy="137.9" r="1.35"/>
<circle cx="537.9" cy="152.9" r="1.35"/>
<circle cx="530.4" cy="134.6" r="1.35"/>
<circle cx="517.3" cy="144.1" r="1.35"/>
<circle cx="542.0" cy="154.1" r="1.35"/>
<circle cx="580.8" cy="159.3" r="1.35"/>
<circle cx="545.0" cy="156.4" r="1.35"/>
<circle cx="591.5" cy="169.0" r="1.35"/>
<circle cx="581.3" cy="171.7" r="1.35"/>
<circle cx="568.0" cy="159.3" r="1.35"/>
<circle cx="558.3" cy="148.1" r="1.35"/>
<circle cx="533.2" cy="138.3" r="1.35"/>
<circle cx="573.9" cy="162.3" r="1.35"/>
<circle cx="589.3" cy="168.3" r="1.35"/>
<circle cx="647.0" cy="155.1" r="1.35"/>
<circle cx="653.2" cy="154.9" r="1.35"/>
<circle cx="638.9" cy="155.6" r="1.35"/>
<circle cx="623.0" cy="153.2" r="1.35"/>
<circle cx="623.7" cy="160.9" r="1.35"/>
<circle cx="661.9" cy="156.8" r="1.35"/>
<circle cx="629.0" cy="159.3" r="1.35"/>
<circle cx="634.5" cy="158.7" r="1.35"/>
<circle cx="650.6" cy="156.3" r="1.35"/>
<circle cx="654.6" cy="152.2" r="1.35"/>
<circle cx="658.7" cy="155.5" r="1.35"/>
<circle cx="655.3" cy="159.1" r="1.35"/>
<circle cx="633.2" cy="153.9" r="1.35"/>
<circle cx="637.9" cy="149.9" r="1.35"/>
<circle cx="660.5" cy="157.2" r="1.35"/>
<circle cx="643.6" cy="155.5" r="1.35"/>
<circle cx="660.7" cy="149.8" r="1.35"/>
<circle cx="637.7" cy="157.2" r="1.35"/>
<circle cx="645.5" cy="155.0" r="1.35"/>
<circle cx="633.4" cy="151.7" r="1.35"/>
<circle cx="651.5" cy="153.1" r="1.35"/>
<circle cx="663.2" cy="159.8" r="1.35"/>
<circle cx="664.7" cy="152.3" r="1.35"/>
<circle cx="644.6" cy="150.3" r="1.35"/>
<circle cx="606.7" cy="127.6" r="1.35"/>
<circle cx="614.1" cy="158.5" r="1.35"/>
<circle cx="627.6" cy="137.7" r="1.35"/>
<circle cx="602.4" cy="157.6" r="1.35"/>
<circle cx="590.7" cy="154.6" r="1.35"/>
<circle cx="632.5" cy="127.4" r="1.35"/>
<circle cx="637.5" cy="147.6" r="1.35"/>
<circle cx="608.2" cy="139.9" r="1.35"/>
<circle cx="619.6" cy="143.4" r="1.35"/>
<circle cx="633.1" cy="156.3" r="1.35"/>
<circle cx="605.0" cy="125.3" r="1.35"/>
<circle cx="628.5" cy="147.7" r="1.35"/>
<circle cx="591.2" cy="180.5" r="1.35"/>
<circle cx="568.0" cy="208.6" r="1.35"/>
<circle cx="579.6" cy="194.1" r="1.35"/>
<circle cx="603.9" cy="184.6" r="1.35"/>
<circle cx="590.4" cy="180.1" r="1.35"/>
<circle cx="587.4" cy="203.1" r="1.35"/>
<circle cx="571.3" cy="203.8" r="1.35"/>
<circle cx="593.7" cy="196.6" r="1.35"/>
<circle cx="598.0" cy="205.4" r="1.35"/>
<circle cx="590.2" cy="200.7" r="1.35"/>
<circle cx="484.0" cy="187.0" r="1.35"/>
<circle cx="486.0" cy="188.0" r="1.35"/>
<circle cx="503.5" cy="171.5" r="1.35"/>
<circle cx="516.5" cy="163.0" r="1.35"/>
<circle cx="529.5" cy="162.5" r="1.35"/>
<circle cx="555.5" cy="165.5" r="1.35"/>
<circle cx="562.0" cy="181.0" r="1.35"/>
<circle cx="564.0" cy="180.0" r="1.35"/>
<circle cx="562.5" cy="198.5" r="1.35"/>
<circle cx="571.0" cy="209.5" r="1.35"/>
<circle cx="573.0" cy="210.0" r="1.35"/>
<circle cx="569.0" cy="210.0" r="1.35"/>
<circle cx="581.0" cy="204.0" r="1.35"/>
<circle cx="601.0" cy="128.0" r="1.35"/>
<circle cx="607.0" cy="124.0" r="1.35"/>
<circle cx="645.0" cy="145.0" r="1.35"/>
<circle cx="658.0" cy="150.0" r="1.35"/>
<circle cx="664.0" cy="146.0" r="1.35"/>
<circle cx="508.0" cy="134.0" r="1.35"/>
<circle cx="516.0" cy="137.0" r="1.35"/>
<circle cx="497.0" cy="142.0" r="1.35"/>
<circle cx="503.0" cy="149.0" r="1.35"/>
</g>
<g fill="none" stroke="#0000d8" stroke-width="0.65">
<circle cx="637.5" cy="197.0" r="1.35"/>
<circle cx="644.6" cy="192.9" r="1.35"/>
<circle cx="612.8" cy="204.7" r="1.35"/>
<circle cx="615.4" cy="207.5" r="1.35"/>
<circle cx="631.3" cy="198.9" r="1.35"/>
<circle cx="628.4" cy="198.1" r="1.35"/>
<circle cx="646.3" cy="192.9" r="1.35"/>
<circle cx="651.3" cy="190.1" r="1.35"/>
<circle cx="626.7" cy="197.1" r="1.35"/>
<circle cx="659.0" cy="187.2" r="1.35"/>
<circle cx="637.6" cy="198.9" r="1.35"/>
<circle cx="654.4" cy="189.1" r="1.35"/>
<circle cx="657.2" cy="190.3" r="1.35"/>
<circle cx="663.3" cy="187.0" r="1.35"/>
<circle cx="615.9" cy="202.1" r="1.35"/>
<circle cx="650.2" cy="194.0" r="1.35"/>
<circle cx="638.1" cy="193.6" r="1.35"/>
<circle cx="660.1" cy="187.6" r="1.35"/>
<circle cx="659.8" cy="188.2" r="1.35"/>
<circle cx="668.6" cy="182.5" r="1.35"/>
<circle cx="629.4" cy="198.6" r="1.35"/>
<circle cx="638.4" cy="196.4" r="1.35"/>
<circle cx="645.7" cy="190.9" r="1.35"/>
<circle cx="623.3" cy="201.1" r="1.35"/>
<circle cx="662.5" cy="184.5" r="1.35"/>
<circle cx="650.9" cy="192.1" r="1.35"/>
<circle cx="643.3" cy="195.2" r="1.35"/>
<circle cx="629.5" cy="201.0" r="1.35"/>
<circle cx="617.0" cy="200.0" r="1.35"/>
<circle cx="666.7" cy="184.6" r="1.35"/>
<circle cx="638.8" cy="197.5" r="1.35"/>
<circle cx="667.8" cy="182.5" r="1.35"/>
<circle cx="658.9" cy="187.3" r="1.35"/>
<circle cx="659.2" cy="187.3" r="1.35"/>
<circle cx="639.3" cy="193.9" r="1.35"/>
<circle cx="652.7" cy="191.4" r="1.35"/>
<circle cx="646.4" cy="196.0" r="1.35"/>
<circle cx="667.0" cy="183.7" r="1.35"/>
<circle cx="619.0" cy="201.4" r="1.35"/>
<circle cx="612.8" cy="204.0" r="1.35"/>
<circle cx="656.7" cy="188.2" r="1.35"/>
<circle cx="661.1" cy="187.7" r="1.35"/>
<circle cx="666.3" cy="185.1" r="1.35"/>
<circle cx="638.3" cy="199.2" r="1.35"/>
<circle cx="647.6" cy="190.2" r="1.35"/>
<circle cx="663.5" cy="187.2" r="1.35"/>
<circle cx="649.4" cy="196.0" r="1.35"/>
<circle cx="638.5" cy="193.9" r="1.35"/>
<circle cx="658.3" cy="187.3" r="1.35"/>
<circle cx="635.1" cy="198.5" r="1.35"/>
<circle cx="654.2" cy="192.7" r="1.35"/>
<circle cx="647.0" cy="190.9" r="1.35"/>
<circle cx="650.2" cy="192.6" r="1.35"/>
<circle cx="656.6" cy="188.8" r="1.35"/>
<circle cx="626.4" cy="203.0" r="1.35"/>
<circle cx="644.2" cy="195.2" r="1.35"/>
<circle cx="637.9" cy="196.5" r="1.35"/>
<circle cx="670.1" cy="181.6" r="1.35"/>
<circle cx="636.7" cy="201.0" r="1.35"/>
<circle cx="635.9" cy="198.9" r="1.35"/>
<circle cx="646.0" cy="190.5" r="1.35"/>
<circle cx="648.2" cy="189.5" r="1.35"/>
<circle cx="626.0" cy="204.7" r="1.35"/>
<circle cx="635.5" cy="195.6" r="1.35"/>
<circle cx="640.5" cy="196.4" r="1.35"/>
<circle cx="666.7" cy="185.3" r="1.35"/>
<circle cx="641.3" cy="195.9" r="1.35"/>
<circle cx="618.8" cy="204.1" r="1.35"/>
<circle cx="649.0" cy="194.1" r="1.35"/>
<circle cx="652.1" cy="192.9" r="1.35"/>
<circle cx="648.1" cy="191.2" r="1.35"/>
<circle cx="641.8" cy="195.1" r="1.35"/>
<circle cx="641.1" cy="191.7" r="1.35"/>
<circle cx="649.3" cy="191.7" r="1.35"/>
<circle cx="644.3" cy="194.0" r="1.35"/>
<circle cx="653.3" cy="189.0" r="1.35"/>
<circle cx="656.3" cy="189.6" r="1.35"/>
<circle cx="645.4" cy="192.7" r="1.35"/>
<circle cx="629.2" cy="203.8" r="1.35"/>
<circle cx="645.3" cy="190.8" r="1.35"/>
<circle cx="635.4" cy="193.8" r="1.35"/>
<circle cx="640.5" cy="200.0" r="1.35"/>
<circle cx="634.1" cy="196.1" r="1.35"/>
<circle cx="626.8" cy="197.3" r="1.35"/>
<circle cx="633.9" cy="202.2" r="1.35"/>
<circle cx="662.0" cy="186.2" r="1.35"/>
<circle cx="614.9" cy="207.3" r="1.35"/>
<circle cx="626.3" cy="204.4" r="1.35"/>
<circle cx="633.2" cy="199.0" r="1.35"/>
<circle cx="628.3" cy="197.2" r="1.35"/>
<circle cx="624.7" cy="204.3" r="1.35"/>
<circle cx="668.7" cy="182.2" r="1.35"/>
<circle cx="615.6" cy="203.9" r="1.35"/>
<circle cx="636.1" cy="199.9" r="1.35"/>
<circle cx="641.9" cy="198.8" r="1.35"/>
<circle cx="637.6" cy="193.8" r="1.35"/>
<circle cx="654.4" cy="191.4" r="1.35"/>
<circle cx="655.7" cy="187.2" r="1.35"/>
<circle cx="646.1" cy="192.1" r="1.35"/>
<circle cx="645.8" cy="192.8" r="1.35"/>
<circle cx="636.3" cy="198.6" r="1.35"/>
<circle cx="631.8" cy="200.5" r="1.35"/>
<circle cx="648.3" cy="194.1" r="1.35"/>
<circle cx="659.1" cy="187.2" r="1.35"/>
<circle cx="641.9" cy="197.3" r="1.35"/>
<circle cx="668.9" cy="183.3" r="1.35"/>
<circle cx="618.3" cy="203.0" r="1.35"/>
<circle cx="663.2" cy="187.9" r="1.35"/>
<circle cx="671.0" cy="181.5" r="1.35"/>
<circle cx="641.5" cy="191.3" r="1.35"/>
<circle cx="630.2" cy="199.5" r="1.35"/>
<circle cx="637.9" cy="195.5" r="1.35"/>
<circle cx="650.0" cy="188.8" r="1.35"/>
<circle cx="644.7" cy="197.7" r="1.35"/>
<circle cx="632.3" cy="194.5" r="1.35"/>
<circle cx="656.0" cy="189.0" r="1.35"/>
<circle cx="651.9" cy="188.1" r="1.35"/>
<circle cx="659.6" cy="188.2" r="1.35"/>
<circle cx="635.4" cy="198.9" r="1.35"/>
<circle cx="630.2" cy="201.9" r="1.35"/>
<circle cx="661.5" cy="188.2" r="1.35"/>
<circle cx="646.0" cy="189.3" r="1.35"/>
<circle cx="650.9" cy="188.4" r="1.35"/>
<circle cx="646.4" cy="192.1" r="1.35"/>
<circle cx="647.0" cy="192.0" r="1.35"/>
<circle cx="650.3" cy="188.9" r="1.35"/>
<circle cx="632.7" cy="197.9" r="1.35"/>
<circle cx="652.3" cy="188.6" r="1.35"/>
<circle cx="648.2" cy="190.8" r="1.35"/>
<circle cx="660.3" cy="186.6" r="1.35"/>
<circle cx="637.1" cy="195.3" r="1.35"/>
<circle cx="658.3" cy="189.4" r="1.35"/>
<circle cx="637.9" cy="196.0" r="1.35"/>
<circle cx="667.9" cy="182.7" r="1.35"/>
<circle cx="660.3" cy="188.5" r="1.35"/>
<circle cx="646.1" cy="197.8" r="1.35"/>
<circle cx="633.3" cy="196.1" r="1.35"/>
<circle cx="662.2" cy="185.2" r="1.35"/>
<circle cx="666.0" cy="183.7" r="1.35"/>
<circle cx="645.5" cy="191.3" r="1.35"/>
<circle cx="659.7" cy="186.8" r="1.35"/>
<circle cx="623.9" cy="199.0" r="1.35"/>
<circle cx="648.1" cy="195.2" r="1.35"/>
<circle cx="664.8" cy="183.9" r="1.35"/>
<circle cx="648.0" cy="192.9" r="1.35"/>
<circle cx="623.4" cy="200.2" r="1.35"/>
<circle cx="665.9" cy="183.7" r="1.35"/>
<circle cx="653.1" cy="193.1" r="1.35"/>
<circle cx="642.1" cy="192.2" r="1.35"/>
<circle cx="628.6" cy="200.1" r="1.35"/>
<circle cx="655.1" cy="187.3" r="1.35"/>
<circle cx="657.8" cy="187.3" r="1.35"/>
<circle cx="621.2" cy="199.7" r="1.35"/>
<circle cx="627.5" cy="205.1" r="1.35"/>
<circle cx="652.6" cy="189.3" r="1.35"/>
<circle cx="645.6" cy="190.7" r="1.35"/>
<circle cx="649.7" cy="195.6" r="1.35"/>
<circle cx="662.6" cy="185.2" r="1.35"/>
<circle cx="663.6" cy="185.4" r="1.35"/>
<circle cx="669.6" cy="182.8" r="1.35"/>
<circle cx="669.4" cy="182.5" r="1.35"/>
<circle cx="654.4" cy="188.3" r="1.35"/>
<circle cx="664.2" cy="185.0" r="1.35"/>
<circle cx="619.0" cy="201.9" r="1.35"/>
<circle cx="658.3" cy="188.1" r="1.35"/>
<circle cx="667.9" cy="184.1" r="1.35"/>
<circle cx="666.5" cy="183.6" r="1.35"/>
<circle cx="649.1" cy="195.7" r="1.35"/>
<circle cx="662.4" cy="186.3" r="1.35"/>
<circle cx="664.9" cy="183.4" r="1.35"/>
<circle cx="652.3" cy="191.0" r="1.35"/>
<circle cx="651.5" cy="189.4" r="1.35"/>
<circle cx="662.9" cy="187.0" r="1.35"/>
<circle cx="620.3" cy="207.2" r="1.35"/>
<circle cx="655.6" cy="190.8" r="1.35"/>
<circle cx="654.3" cy="189.0" r="1.35"/>
<circle cx="670.2" cy="183.2" r="1.35"/>
<circle cx="663.4" cy="184.5" r="1.35"/>
<circle cx="631.7" cy="195.3" r="1.35"/>
<circle cx="617.0" cy="205.0" r="1.35"/>
<circle cx="658.5" cy="185.9" r="1.35"/>
<circle cx="633.0" cy="198.5" r="1.35"/>
<circle cx="654.6" cy="188.3" r="1.35"/>
<circle cx="670.5" cy="181.8" r="1.35"/>
<circle cx="614.0" cy="205.4" r="1.35"/>
<circle cx="635.4" cy="194.9" r="1.35"/>
<circle cx="654.7" cy="190.2" r="1.35"/>
<circle cx="647.1" cy="193.6" r="1.35"/>
<circle cx="657.2" cy="189.9" r="1.35"/>
<circle cx="638.6" cy="196.3" r="1.35"/>
<circle cx="637.7" cy="192.9" r="1.35"/>
<circle cx="661.8" cy="188.2" r="1.35"/>
<circle cx="652.2" cy="193.9" r="1.35"/>
<circle cx="649.4" cy="190.1" r="1.35"/>
<circle cx="661.5" cy="187.2" r="1.35"/>
<circle cx="626.1" cy="202.6" r="1.35"/>
<circle cx="631.6" cy="198.8" r="1.35"/>
<circle cx="647.3" cy="193.6" r="1.35"/>
<circle cx="627.7" cy="201.9" r="1.35"/>
<circle cx="649.6" cy="194.5" r="1.35"/>
<circle cx="624.5" cy="198.4" r="1.35"/>
<circle cx="640.5" cy="195.2" r="1.35"/>
<circle cx="664.6" cy="184.8" r="1.35"/>
<circle cx="622.5" cy="205.2" r="1.35"/>
<circle cx="631.2" cy="198.6" r="1.35"/>
<circle cx="629.4" cy="198.8" r="1.35"/>
<circle cx="645.5" cy="194.3" r="1.35"/>
<circle cx="645.7" cy="197.1" r="1.35"/>
<circle cx="632.1" cy="203.0" r="1.35"/>
<circle cx="640.7" cy="191.7" r="1.35"/>
<circle cx="659.0" cy="190.6" r="1.35"/>
<circle cx="648.3" cy="193.8" r="1.35"/>
<circle cx="634.9" cy="195.5" r="1.35"/>
<circle cx="667.2" cy="182.7" r="1.35"/>
<circle cx="649.0" cy="191.0" r="1.35"/>
<circle cx="616.0" cy="201.7" r="1.35"/>
<circle cx="653.6" cy="192.6" r="1.35"/>
<circle cx="633.8" cy="193.9" r="1.35"/>
<circle cx="643.8" cy="192.7" r="1.35"/>
<circle cx="620.6" cy="202.4" r="1.35"/>
<circle cx="651.4" cy="188.4" r="1.35"/>
<circle cx="640.7" cy="197.0" r="1.35"/>
<circle cx="666.7" cy="182.9" r="1.35"/>
<circle cx="626.4" cy="200.4" r="1.35"/>
<circle cx="660.3" cy="186.0" r="1.35"/>
<circle cx="638.1" cy="194.1" r="1.35"/>
<circle cx="647.1" cy="190.0" r="1.35"/>
<circle cx="659.5" cy="187.9" r="1.35"/>
<circle cx="646.9" cy="195.5" r="1.35"/>
<circle cx="662.8" cy="184.4" r="1.35"/>
<circle cx="642.9" cy="190.7" r="1.35"/>
<circle cx="649.3" cy="194.6" r="1.35"/>
<circle cx="654.9" cy="187.7" r="1.35"/>
<circle cx="639.0" cy="193.7" r="1.35"/>
<circle cx="627.9" cy="198.2" r="1.35"/>
<circle cx="649.4" cy="190.2" r="1.35"/>
<circle cx="648.6" cy="189.8" r="1.35"/>
<circle cx="649.0" cy="193.8" r="1.35"/>
<circle cx="634.0" cy="201.2" r="1.35"/>
<circle cx="649.2" cy="190.5" r="1.35"/>
<circle cx="649.8" cy="191.4" r="1.35"/>
<circle cx="657.1" cy="187.0" r="1.35"/>
<circle cx="642.6" cy="195.3" r="1.35"/>
<circle cx="620.2" cy="201.7" r="1.35"/>
<circle cx="658.0" cy="185.9" r="1.35"/>
<circle cx="635.3" cy="202.9" r="1.35"/>
<circle cx="626.3" cy="203.4" r="1.35"/>
<circle cx="647.3" cy="190.1" r="1.35"/>
<circle cx="644.8" cy="197.5" r="1.35"/>
<circle cx="656.8" cy="191.9" r="1.35"/>
<circle cx="665.1" cy="184.4" r="1.35"/>
<circle cx="659.6" cy="187.4" r="1.35"/>
<circle cx="659.4" cy="188.5" r="1.35"/>
<circle cx="637.7" cy="196.1" r="1.35"/>
<circle cx="667.7" cy="184.0" r="1.35"/>
<circle cx="661.3" cy="188.5" r="1.35"/>
<circle cx="643.9" cy="191.2" r="1.35"/>
<circle cx="664.5" cy="186.5" r="1.35"/>
<circle cx="643.0" cy="196.4" r="1.35"/>
<circle cx="635.6" cy="197.0" r="1.35"/>
<circle cx="619.2" cy="203.5" r="1.35"/>
<circle cx="620.6" cy="203.1" r="1.35"/>
<circle cx="628.0" cy="199.3" r="1.35"/>
<circle cx="646.7" cy="191.3" r="1.35"/>
<circle cx="641.9" cy="195.2" r="1.35"/>
<circle cx="656.8" cy="190.2" r="1.35"/>
<circle cx="663.6" cy="187.5" r="1.35"/>
<circle cx="648.2" cy="189.7" r="1.35"/>
<circle cx="664.9" cy="184.6" r="1.35"/>
<circle cx="643.7" cy="192.7" r="1.35"/>
<circle cx="655.8" cy="188.1" r="1.35"/>
<circle cx="662.7" cy="184.6" r="1.35"/>
<circle cx="651.0" cy="191.6" r="1.35"/>
<circle cx="627.3" cy="199.2" r="1.35"/>
<circle cx="665.5" cy="185.3" r="1.35"/>
<circle cx="641.1" cy="196.4" r="1.35"/>
<circle cx="665.8" cy="185.7" r="1.35"/>
<circle cx="631.9" cy="202.3" r="1.35"/>
<circle cx="625.9" cy="205.7" r="1.35"/>
<circle cx="664.6" cy="184.4" r="1.35"/>
<circle cx="658.5" cy="186.6" r="1.35"/>
<circle cx="654.3" cy="189.0" r="1.35"/>
<circle cx="666.5" cy="183.2" r="1.35"/>
<circle cx="621.1" cy="205.9" r="1.35"/>
<circle cx="662.5" cy="186.2" r="1.35"/>
<circle cx="669.1" cy="182.8" r="1.35"/>
<circle cx="644.1" cy="190.9" r="1.35"/>
<circle cx="663.0" cy="186.5" r="1.35"/>
<circle cx="645.3" cy="190.6" r="1.35"/>
<circle cx="637.0" cy="196.5" r="1.35"/>
<circle cx="645.5" cy="192.3" r="1.35"/>
<circle cx="664.2" cy="183.7" r="1.35"/>
<circle cx="660.1" cy="184.7" r="1.35"/>
<circle cx="658.9" cy="186.7" r="1.35"/>
<circle cx="626.1" cy="199.4" r="1.35"/>
<circle cx="661.2" cy="186.6" r="1.35"/>
<circle cx="661.4" cy="186.7" r="1.35"/>
<circle cx="653.6" cy="188.9" r="1.35"/>
<circle cx="650.4" cy="189.2" r="1.35"/>
<circle cx="613.0" cy="203.5" r="1.35"/>
<circle cx="624.5" cy="200.5" r="1.35"/>
<circle cx="634.3" cy="201.9" r="1.35"/>
<circle cx="605.5" cy="211.4" r="1.35"/>
<circle cx="610.7" cy="208.7" r="1.35"/>
<circle cx="629.0" cy="208.3" r="1.35"/>
<circle cx="609.3" cy="207.6" r="1.35"/>
<circle cx="641.6" cy="201.1" r="1.35"/>
<circle cx="610.5" cy="211.3" r="1.35"/>
<circle cx="613.4" cy="204.3" r="1.35"/>
<circle cx="627.0" cy="200.0" r="1.35"/>
<circle cx="608.1" cy="213.5" r="1.35"/>
<circle cx="641.4" cy="194.8" r="1.35"/>
<circle cx="630.0" cy="199.2" r="1.35"/>
<circle cx="602.4" cy="207.6" r="1.35"/>
<circle cx="598.1" cy="218.2" r="1.35"/>
<circle cx="637.1" cy="195.8" r="1.35"/>
<circle cx="608.7" cy="205.7" r="1.35"/>
<circle cx="619.4" cy="204.5" r="1.35"/>
<circle cx="610.8" cy="216.5" r="1.35"/>
<circle cx="605.9" cy="213.3" r="1.35"/>
<circle cx="608.3" cy="212.9" r="1.35"/>
<circle cx="607.5" cy="207.3" r="1.35"/>
<circle cx="644.2" cy="195.5" r="1.35"/>
<circle cx="620.9" cy="208.8" r="1.35"/>
<circle cx="646.9" cy="198.0" r="1.35"/>
<circle cx="606.7" cy="213.8" r="1.35"/>
<circle cx="627.8" cy="205.0" r="1.35"/>
<circle cx="618.7" cy="214.0" r="1.35"/>
<circle cx="602.8" cy="212.9" r="1.35"/>
<circle cx="623.7" cy="217.8" r="1.35"/>
<circle cx="631.1" cy="199.7" r="1.35"/>
<circle cx="618.6" cy="208.4" r="1.35"/>
<circle cx="618.5" cy="202.5" r="1.35"/>
<circle cx="644.9" cy="197.3" r="1.35"/>
<circle cx="608.1" cy="206.7" r="1.35"/>
<circle cx="597.3" cy="226.2" r="1.35"/>
<circle cx="608.1" cy="211.4" r="1.35"/>
<circle cx="639.6" cy="205.1" r="1.35"/>
<circle cx="625.1" cy="202.2" r="1.35"/>
<circle cx="627.5" cy="210.5" r="1.35"/>
<circle cx="611.6" cy="206.2" r="1.35"/>
<circle cx="619.6" cy="208.1" r="1.35"/>
<circle cx="636.1" cy="202.3" r="1.35"/>
<circle cx="614.2" cy="212.6" r="1.35"/>
<circle cx="608.7" cy="206.2" r="1.35"/>
<circle cx="596.2" cy="215.7" r="1.35"/>
<circle cx="624.7" cy="204.3" r="1.35"/>
<circle cx="624.0" cy="201.6" r="1.35"/>
<circle cx="611.7" cy="210.5" r="1.35"/>
<circle cx="619.3" cy="206.6" r="1.35"/>
<circle cx="637.5" cy="200.0" r="1.35"/>
<circle cx="629.8" cy="198.6" r="1.35"/>
<circle cx="622.1" cy="201.2" r="1.35"/>
<circle cx="611.2" cy="206.0" r="1.35"/>
<circle cx="618.6" cy="203.2" r="1.35"/>
<circle cx="538.5" cy="259.0" r="1.35"/>
<circle cx="552.0" cy="252.5" r="1.35"/>
<circle cx="565.0" cy="240.0" r="1.35"/>
<circle cx="584.0" cy="239.0" r="1.35"/>
<circle cx="601.5" cy="244.5" r="1.35"/>
<circle cx="576.0" cy="224.0" r="1.35"/>
<circle cx="581.0" cy="218.0" r="1.35"/>
<circle cx="582.0" cy="221.0" r="1.35"/>
<circle cx="582.5" cy="223.0" r="1.35"/>
<circle cx="596.0" cy="218.0" r="1.35"/>
<circle cx="594.0" cy="227.0" r="1.35"/>
<circle cx="593.5" cy="229.5" r="1.35"/>
<circle cx="593.5" cy="233.5" r="1.35"/>
<circle cx="597.5" cy="223.0" r="1.35"/>
<circle cx="601.0" cy="226.0" r="1.35"/>
<circle cx="606.0" cy="224.0" r="1.35"/>
<circle cx="608.0" cy="221.0" r="1.35"/>
<circle cx="603.0" cy="208.5" r="1.35"/>
<circle cx="623.5" cy="220.5" r="1.35"/>
<circle cx="629.0" cy="219.0" r="1.35"/>
<circle cx="603.0" cy="212.0" r="1.35"/>
<circle cx="609.0" cy="209.0" r="1.35"/>
<circle cx="614.0" cy="217.0" r="1.35"/>
<circle cx="617.0" cy="213.0" r="1.35"/>
<circle cx="612.0" cy="222.0" r="1.35"/>
<circle cx="615.0" cy="226.0" r="1.35"/>
<circle cx="606.0" cy="230.0" r="1.35"/>
<circle cx="620.0" cy="224.0" r="1.35"/>
</g>
<g fill="none" stroke="#f00000" stroke-width="0.65">
<circle cx="663.4" cy="155.4" r="1.35"/>
<circle cx="665.6" cy="156.5" r="1.35"/>
<circle cx="664.8" cy="152.7" r="1.35"/>
<circle cx="670.6" cy="162.7" r="1.35"/>
<circle cx="657.7" cy="151.0" r="1.35"/>
<circle cx="668.7" cy="157.5" r="1.35"/>
<circle cx="657.9" cy="147.3" r="1.35"/>
<circle cx="666.0" cy="155.5" r="1.35"/>
<circle cx="657.9" cy="144.6" r="1.35"/>
<circle cx="668.6" cy="157.4" r="1.35"/>
<circle cx="672.2" cy="162.2" r="1.35"/>
<circle cx="670.3" cy="159.2" r="1.35"/>
<circle cx="671.6" cy="161.3" r="1.35"/>
<circle cx="670.8" cy="162.7" r="1.35"/>
<circle cx="672.8" cy="165.1" r="1.35"/>
<circle cx="654.1" cy="139.5" r="1.35"/>
<circle cx="666.3" cy="154.3" r="1.35"/>
<circle cx="675.8" cy="166.5" r="1.35"/>
<circle cx="670.5" cy="161.4" r="1.35"/>
<circle cx="654.6" cy="140.3" r="1.35"/>
<circle cx="658.0" cy="146.0" r="1.35"/>
<circle cx="662.7" cy="157.2" r="1.35"/>
<circle cx="669.7" cy="161.0" r="1.35"/>
<circle cx="659.3" cy="145.0" r="1.35"/>
<circle cx="664.4" cy="154.9" r="1.35"/>
<circle cx="667.2" cy="154.9" r="1.35"/>
<circle cx="669.2" cy="162.1" r="1.35"/>
<circle cx="662.0" cy="154.1" r="1.35"/>
<circle cx="658.7" cy="148.1" r="1.35"/>
<circle cx="666.1" cy="155.8" r="1.35"/>
<circle cx="664.9" cy="152.7" r="1.35"/>
<circle cx="668.2" cy="155.9" r="1.35"/>
<circle cx="661.4" cy="153.1" r="1.35"/>
<circle cx="671.1" cy="159.7" r="1.35"/>
<circle cx="665.6" cy="157.4" r="1.35"/>
<circle cx="675.1" cy="166.0" r="1.35"/>
<circle cx="663.7" cy="153.6" r="1.35"/>
<circle cx="675.2" cy="164.7" r="1.35"/>
<circle cx="650.2" cy="138.0" r="1.35"/>
<circle cx="664.6" cy="156.1" r="1.35"/>
<circle cx="657.3" cy="144.9" r="1.35"/>
<circle cx="648.5" cy="134.5" r="1.35"/>
<circle cx="675.9" cy="166.8" r="1.35"/>
<circle cx="649.3" cy="135.2" r="1.35"/>
<circle cx="673.3" cy="162.8" r="1.35"/>
<circle cx="658.1" cy="147.3" r="1.35"/>
<circle cx="667.3" cy="158.0" r="1.35"/>
<circle cx="674.2" cy="164.5" r="1.35"/>
<circle cx="665.4" cy="155.3" r="1.35"/>
<circle cx="651.9" cy="134.3" r="1.35"/>
<circle cx="658.3" cy="144.7" r="1.35"/>
<circle cx="655.8" cy="140.4" r="1.35"/>
<circle cx="663.7" cy="153.4" r="1.35"/>
<circle cx="670.4" cy="160.2" r="1.35"/>
<circle cx="665.6" cy="157.2" r="1.35"/>
<circle cx="657.1" cy="144.7" r="1.35"/>
<circle cx="674.3" cy="166.4" r="1.35"/>
<circle cx="664.6" cy="153.5" r="1.35"/>
<circle cx="674.1" cy="164.0" r="1.35"/>
<circle cx="675.6" cy="165.6" r="1.35"/>
<circle cx="663.3" cy="150.9" r="1.35"/>
<circle cx="671.2" cy="162.5" r="1.35"/>
<circle cx="658.8" cy="144.9" r="1.35"/>
<circle cx="674.0" cy="164.1" r="1.35"/>
<circle cx="661.5" cy="153.9" r="1.35"/>
<circle cx="668.5" cy="159.1" r="1.35"/>
<circle cx="674.5" cy="165.6" r="1.35"/>
<circle cx="661.6" cy="148.5" r="1.35"/>
<circle cx="655.2" cy="140.6" r="1.35"/>
<circle cx="656.4" cy="145.7" r="1.35"/>
<circle cx="668.1" cy="156.2" r="1.35"/>
<circle cx="672.8" cy="163.4" r="1.35"/>
<circle cx="652.5" cy="136.8" r="1.35"/>
<circle cx="673.1" cy="162.5" r="1.35"/>
<circle cx="670.4" cy="158.7" r="1.35"/>
<circle cx="659.9" cy="146.4" r="1.35"/>
<circle cx="660.3" cy="154.5" r="1.35"/>
<circle cx="672.4" cy="163.1" r="1.35"/>
<circle cx="657.2" cy="143.1" r="1.35"/>
<circle cx="667.6" cy="154.7" r="1.35"/>
<circle cx="674.1" cy="165.0" r="1.35"/>
<circle cx="663.6" cy="153.1" r="1.35"/>
<circle cx="667.2" cy="155.8" r="1.35"/>
<circle cx="666.5" cy="159.9" r="1.35"/>
<circle cx="662.2" cy="149.6" r="1.35"/>
<circle cx="663.3" cy="155.0" r="1.35"/>
<circle cx="648.7" cy="135.2" r="1.35"/>
<circle cx="672.1" cy="160.1" r="1.35"/>
<circle cx="672.8" cy="164.0" r="1.35"/>
<circle cx="672.3" cy="163.6" r="1.35"/>
<circle cx="670.9" cy="163.8" r="1.35"/>
<circle cx="659.2" cy="148.1" r="1.35"/>
<circle cx="674.7" cy="165.3" r="1.35"/>
<circle cx="663.5" cy="150.0" r="1.35"/>
<circle cx="665.8" cy="158.2" r="1.35"/>
<circle cx="669.1" cy="159.1" r="1.35"/>
<circle cx="673.9" cy="164.4" r="1.35"/>
<circle cx="671.2" cy="161.4" r="1.35"/>
<circle cx="669.8" cy="161.3" r="1.35"/>
<circle cx="660.5" cy="150.3" r="1.35"/>
<circle cx="675.1" cy="166.0" r="1.35"/>
<circle cx="656.5" cy="143.7" r="1.35"/>
<circle cx="662.6" cy="153.6" r="1.35"/>
<circle cx="660.6" cy="147.8" r="1.35"/>
<circle cx="664.7" cy="153.9" r="1.35"/>
<circle cx="674.3" cy="165.9" r="1.35"/>
<circle cx="659.7" cy="146.6" r="1.35"/>
<circle cx="662.7" cy="151.8" r="1.35"/>
<circle cx="669.9" cy="160.8" r="1.35"/>
<circle cx="667.3" cy="158.3" r="1.35"/>
<circle cx="661.6" cy="152.8" r="1.35"/>
<circle cx="666.4" cy="154.9" r="1.35"/>
<circle cx="662.0" cy="155.9" r="1.35"/>
<circle cx="654.0" cy="140.9" r="1.35"/>
<circle cx="664.2" cy="154.2" r="1.35"/>
<circle cx="665.5" cy="152.5" r="1.35"/>
<circle cx="655.2" cy="141.7" r="1.35"/>
<circle cx="657.2" cy="147.4" r="1.35"/>
<circle cx="668.6" cy="156.1" r="1.35"/>
<circle cx="660.1" cy="148.3" r="1.35"/>
<circle cx="669.2" cy="158.4" r="1.35"/>
<circle cx="664.7" cy="153.2" r="1.35"/>
<circle cx="661.1" cy="155.7" r="1.35"/>
<circle cx="672.0" cy="162.3" r="1.35"/>
<circle cx="667.8" cy="156.8" r="1.35"/>
<circle cx="643.2" cy="125.5" r="1.35"/>
<circle cx="646.0" cy="130.5" r="1.35"/>
<circle cx="640.5" cy="136.0" r="1.35"/>
<circle cx="651.0" cy="133.5" r="1.35"/>
<circle cx="652.0" cy="138.0" r="1.35"/>
<circle cx="654.5" cy="137.0" r="1.35"/>
<circle cx="650.0" cy="140.0" r="1.35"/>
</g>
<rect x="422.3" y="0" width="154" height="126" fill="#fff"/>
<rect x="452.1" y="4.1" width="119.9" height="95.6" fill="none" stroke="#333" stroke-width="0.9"/>
<line x1="452.1" y1="99.7" x2="572" y2="99.7" stroke="#111" stroke-width="1.2"/>
<line x1="452.1" y1="99.7" x2="453.70000000000005" y2="99.7" stroke="#333" stroke-width="0.7"/>
<line x1="572" y1="99.7" x2="570.4" y2="99.7" stroke="#333" stroke-width="0.7"/>
<line x1="452.1" y1="83.8" x2="453.70000000000005" y2="83.8" stroke="#333" stroke-width="0.7"/>
<line x1="572" y1="83.8" x2="570.4" y2="83.8" stroke="#333" stroke-width="0.7"/>
<line x1="452.1" y1="67.8" x2="453.70000000000005" y2="67.8" stroke="#333" stroke-width="0.7"/>
<line x1="572" y1="67.8" x2="570.4" y2="67.8" stroke="#333" stroke-width="0.7"/>
<line x1="452.1" y1="51.9" x2="453.70000000000005" y2="51.9" stroke="#333" stroke-width="0.7"/>
<line x1="572" y1="51.9" x2="570.4" y2="51.9" stroke="#333" stroke-width="0.7"/>
<line x1="452.1" y1="36.0" x2="453.70000000000005" y2="36.0" stroke="#333" stroke-width="0.7"/>
<line x1="572" y1="36.0" x2="570.4" y2="36.0" stroke="#333" stroke-width="0.7"/>
<line x1="452.1" y1="20.0" x2="453.70000000000005" y2="20.0" stroke="#333" stroke-width="0.7"/>
<line x1="572" y1="20.0" x2="570.4" y2="20.0" stroke="#333" stroke-width="0.7"/>
<line x1="452.1" y1="4.1" x2="453.70000000000005" y2="4.1" stroke="#333" stroke-width="0.7"/>
<line x1="572" y1="4.1" x2="570.4" y2="4.1" stroke="#333" stroke-width="0.7"/>
<line x1="452.1" y1="99.7" x2="452.1" y2="98.3" stroke="#333" stroke-width="0.6"/>
<line x1="452.1" y1="4.1" x2="452.1" y2="5.5" stroke="#333" stroke-width="0.6"/>
<line x1="458.1" y1="99.7" x2="458.1" y2="98.3" stroke="#333" stroke-width="0.6"/>
<line x1="458.1" y1="4.1" x2="458.1" y2="5.5" stroke="#333" stroke-width="0.6"/>
<line x1="464.1" y1="99.7" x2="464.1" y2="98.3" stroke="#333" stroke-width="0.6"/>
<line x1="464.1" y1="4.1" x2="464.1" y2="5.5" stroke="#333" stroke-width="0.6"/>
<line x1="470.1" y1="99.7" x2="470.1" y2="98.3" stroke="#333" stroke-width="0.6"/>
<line x1="470.1" y1="4.1" x2="470.1" y2="5.5" stroke="#333" stroke-width="0.6"/>
<line x1="476.1" y1="99.7" x2="476.1" y2="98.3" stroke="#333" stroke-width="0.6"/>
<line x1="476.1" y1="4.1" x2="476.1" y2="5.5" stroke="#333" stroke-width="0.6"/>
<line x1="482.1" y1="99.7" x2="482.1" y2="98.3" stroke="#333" stroke-width="0.6"/>
<line x1="482.1" y1="4.1" x2="482.1" y2="5.5" stroke="#333" stroke-width="0.6"/>
<line x1="488.1" y1="99.7" x2="488.1" y2="98.3" stroke="#333" stroke-width="0.6"/>
<line x1="488.1" y1="4.1" x2="488.1" y2="5.5" stroke="#333" stroke-width="0.6"/>
<line x1="494.1" y1="99.7" x2="494.1" y2="98.3" stroke="#333" stroke-width="0.6"/>
<line x1="494.1" y1="4.1" x2="494.1" y2="5.5" stroke="#333" stroke-width="0.6"/>
<line x1="500.1" y1="99.7" x2="500.1" y2="98.3" stroke="#333" stroke-width="0.6"/>
<line x1="500.1" y1="4.1" x2="500.1" y2="5.5" stroke="#333" stroke-width="0.6"/>
<line x1="506.1" y1="99.7" x2="506.1" y2="98.3" stroke="#333" stroke-width="0.6"/>
<line x1="506.1" y1="4.1" x2="506.1" y2="5.5" stroke="#333" stroke-width="0.6"/>
<line x1="512.0" y1="99.7" x2="512.0" y2="98.3" stroke="#333" stroke-width="0.6"/>
<line x1="512.0" y1="4.1" x2="512.0" y2="5.5" stroke="#333" stroke-width="0.6"/>
<line x1="518.0" y1="99.7" x2="518.0" y2="98.3" stroke="#333" stroke-width="0.6"/>
<line x1="518.0" y1="4.1" x2="518.0" y2="5.5" stroke="#333" stroke-width="0.6"/>
<line x1="524.0" y1="99.7" x2="524.0" y2="98.3" stroke="#333" stroke-width="0.6"/>
<line x1="524.0" y1="4.1" x2="524.0" y2="5.5" stroke="#333" stroke-width="0.6"/>
<line x1="530.0" y1="99.7" x2="530.0" y2="98.3" stroke="#333" stroke-width="0.6"/>
<line x1="530.0" y1="4.1" x2="530.0" y2="5.5" stroke="#333" stroke-width="0.6"/>
<line x1="536.0" y1="99.7" x2="536.0" y2="98.3" stroke="#333" stroke-width="0.6"/>
<line x1="536.0" y1="4.1" x2="536.0" y2="5.5" stroke="#333" stroke-width="0.6"/>
<line x1="542.0" y1="99.7" x2="542.0" y2="98.3" stroke="#333" stroke-width="0.6"/>
<line x1="542.0" y1="4.1" x2="542.0" y2="5.5" stroke="#333" stroke-width="0.6"/>
<line x1="548.0" y1="99.7" x2="548.0" y2="98.3" stroke="#333" stroke-width="0.6"/>
<line x1="548.0" y1="4.1" x2="548.0" y2="5.5" stroke="#333" stroke-width="0.6"/>
<line x1="554.0" y1="99.7" x2="554.0" y2="98.3" stroke="#333" stroke-width="0.6"/>
<line x1="554.0" y1="4.1" x2="554.0" y2="5.5" stroke="#333" stroke-width="0.6"/>
<line x1="560.0" y1="99.7" x2="560.0" y2="98.3" stroke="#333" stroke-width="0.6"/>
<line x1="560.0" y1="4.1" x2="560.0" y2="5.5" stroke="#333" stroke-width="0.6"/>
<line x1="566.0" y1="99.7" x2="566.0" y2="98.3" stroke="#333" stroke-width="0.6"/>
<line x1="566.0" y1="4.1" x2="566.0" y2="5.5" stroke="#333" stroke-width="0.6"/>
<line x1="572.0" y1="99.7" x2="572.0" y2="98.3" stroke="#333" stroke-width="0.6"/>
<line x1="572.0" y1="4.1" x2="572.0" y2="5.5" stroke="#333" stroke-width="0.6"/>
<text x="450.3" y="7.4" font-size="10" text-anchor="end" fill="#000">0.6</text>
<text x="450.3" y="39.3" font-size="10" text-anchor="end" fill="#000">0.4</text>
<text x="450.3" y="71.1" font-size="10" text-anchor="end" fill="#000">0.2</text>
<text x="450.3" y="103.0" font-size="10" text-anchor="end" fill="#000">0</text>
<text x="452.1" y="110.6" font-size="10" text-anchor="middle" fill="#000">0</text>
<text x="476.1" y="110.6" font-size="10" text-anchor="middle" fill="#000">4</text>
<text x="500.1" y="110.6" font-size="10" text-anchor="middle" fill="#000">8</text>
<text x="524.0" y="110.6" font-size="10" text-anchor="middle" fill="#000">12</text>
<text x="548.0" y="110.6" font-size="10" text-anchor="middle" fill="#000">16</text>
<text x="572.0" y="110.6" font-size="10" text-anchor="middle" fill="#000">20</text>
<text x="511.5" y="119.7" font-size="11.3" text-anchor="middle" fill="#000">number of PCs</text>
<text transform="translate(432 52) rotate(-90)" font-size="11.5" text-anchor="middle" fill="#000">Scores</text>
<text x="556" y="23.7" font-size="20" text-anchor="middle" fill="#000">B1</text>
<circle cx="458.1" cy="15.3" r="1.45" fill="#000"/>
<circle cx="464.1" cy="79.6" r="1.45" fill="#000"/>
<circle cx="470.1" cy="94.4" r="1.45" fill="#000"/>
<circle cx="476.1" cy="95.9" r="1.45" fill="#000"/>
<circle cx="482.1" cy="96.8" r="1.45" fill="#000"/>
<circle cx="488.1" cy="97.5" r="1.45" fill="#000"/>
<circle cx="494.1" cy="97.9" r="1.45" fill="#000"/>
<circle cx="500.1" cy="98.3" r="1.45" fill="#000"/>
<circle cx="506.1" cy="98.4" r="1.45" fill="#000"/>
<circle cx="512.0" cy="98.6" r="1.45" fill="#000"/>
<circle cx="518.0" cy="98.7" r="1.45" fill="#000"/>
<circle cx="524.0" cy="98.9" r="1.45" fill="#000"/>
<circle cx="530.0" cy="98.9" r="1.45" fill="#000"/>
<circle cx="536.0" cy="99.1" r="1.45" fill="#000"/>
<circle cx="542.0" cy="99.1" r="1.45" fill="#000"/>
<circle cx="548.0" cy="99.2" r="1.45" fill="#000"/>
<circle cx="554.0" cy="99.2" r="1.45" fill="#000"/>
<circle cx="560.0" cy="99.4" r="1.45" fill="#000"/>
<circle cx="566.0" cy="99.4" r="1.45" fill="#000"/>
<circle cx="572.0" cy="99.5" r="1.45" fill="#000"/>
</svg></body></html>
